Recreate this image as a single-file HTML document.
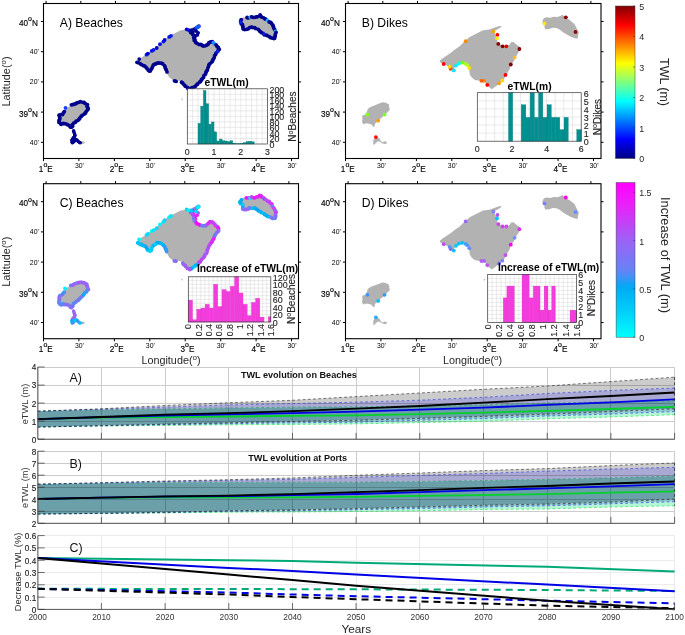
<!DOCTYPE html><html><head><meta charset="utf-8"><title>TWL figure</title><style>html,body{margin:0;padding:0;background:#fff}svg{display:block;will-change:transform}text{font-family:'Liberation Sans', sans-serif}</style></head><body>
<svg width="685" height="635" viewBox="0 0 685 635">
<rect width="685" height="635" fill="#fff"/>
<polygon points="137.3,60.8 140.2,58.4 143.8,56.0 148.6,52.7 152.6,49.5 157.4,46.3 162.2,41.5 167.8,36.7 174.3,33.5 180.7,30.3 187.1,29.5 191.9,27.8 196.0,26.2 199.2,25.9 198.4,27.5 194.3,29.8 191.9,31.1 192.7,34.3 194.3,38.3 195.1,42.3 198.4,44.7 203.2,46.3 207.2,44.7 208.8,42.3 211.2,42.0 214.4,44.7 217.6,47.1 218.4,49.5 216.0,52.7 213.6,56.8 211.2,61.6 208.8,64.8 207.2,69.6 204.8,73.6 203.2,76.8 200.8,80.0 197.6,83.3 194.3,85.7 191.1,88.1 189.5,89.2 187.1,87.3 184.7,84.9 182.3,81.6 179.1,80.8 175.9,80.5 172.7,80.0 169.5,77.6 167.5,74.4 167.0,70.4 166.2,67.2 163.8,64.0 159.8,62.4 156.6,63.2 153.4,65.6 151.8,68.8 151.0,71.2 148.6,69.6 146.2,66.4 143.0,64.8 140.5,64.0 138.1,62.4" fill="#b2b2b2"/>
<polygon points="240.0,21.3 241.5,18.3 244.0,17.3 248.1,17.8 251.2,16.8 255.3,17.1 258.4,15.7 260.4,14.7 261.9,16.8 264.5,18.3 267.0,19.8 269.6,21.9 272.2,23.9 273.7,27.0 275.2,30.0 276.5,32.6 275.7,35.7 275.2,38.7 272.7,38.2 268.6,36.7 264.5,34.6 260.4,32.1 257.3,29.5 254.3,28.0 250.2,27.7 247.1,29.0 243.0,29.3 242.0,27.0 242.5,24.9 240.5,23.4" fill="#b2b2b2"/>
<polygon points="59.9,115.6 62.9,114.6 64.5,112.0 65.5,108.9 68.1,106.9 72.1,105.4 76.2,103.8 80.3,102.3 83.4,102.8 86.5,104.3 87.0,107.4 87.5,110.0 85.4,112.0 83.4,114.1 81.4,116.1 78.8,118.1 76.8,120.2 74.7,121.7 72.7,123.8 72.1,126.8 70.6,126.8 69.6,124.8 67.0,123.8 64.0,123.3 61.4,124.3 59.7,122.2 60.1,119.2" fill="#b2b2b2"/>
<polygon points="71.1,140.1 72.7,138.1 74.7,137.6 77.3,138.6 78.3,140.7 80.3,142.2 82.4,141.2 84.4,141.7 84.6,143.2 82.9,144.0 80.3,143.4 77.8,141.7 75.7,141.2 73.7,142.7 72.1,144.8 70.9,144.2" fill="#b2b2b2"/>
<circle cx="182.1" cy="99.5" r="0.9" fill="#c8c8c8"/>
<circle cx="198.8" cy="26.1" r="1.9" fill="#00008f"/><circle cx="197.6" cy="27.1" r="1.9" fill="#00008f"/><circle cx="195.8" cy="28.3" r="1.9" fill="#00008f"/><circle cx="194.6" cy="29.5" r="1.9" fill="#0a20ff"/><circle cx="193.3" cy="30.0" r="1.9" fill="#00008f"/><circle cx="192.2" cy="31.4" r="1.9" fill="#0a20ff"/><circle cx="192.5" cy="32.3" r="1.9" fill="#00008f"/><circle cx="193.1" cy="34.6" r="1.9" fill="#00008f"/><circle cx="194.0" cy="36.0" r="1.9" fill="#00008f"/><circle cx="194.6" cy="37.0" r="1.9" fill="#00008f"/><circle cx="194.7" cy="39.2" r="1.9" fill="#00008f"/><circle cx="195.1" cy="40.8" r="1.9" fill="#00008f"/><circle cx="195.8" cy="42.5" r="1.9" fill="#00008f"/><circle cx="197.1" cy="43.3" r="1.9" fill="#00008f"/><circle cx="199.0" cy="44.4" r="1.9" fill="#00008f"/><circle cx="200.7" cy="44.5" r="1.9" fill="#00008f"/><circle cx="202.1" cy="45.1" r="1.9" fill="#00008f"/><circle cx="203.1" cy="46.1" r="1.9" fill="#00008f"/><circle cx="205.1" cy="45.8" r="1.9" fill="#00008f"/><circle cx="206.8" cy="45.0" r="1.9" fill="#00008f"/><circle cx="208.0" cy="44.3" r="1.9" fill="#00008f"/><circle cx="208.9" cy="42.7" r="1.9" fill="#00008f"/><circle cx="210.5" cy="42.0" r="1.9" fill="#00008f"/><circle cx="212.3" cy="41.7" r="1.9" fill="#00008f"/><circle cx="213.4" cy="42.6" r="1.9" fill="#1e90ff"/><circle cx="214.2" cy="43.8" r="1.9" fill="#1e90ff"/><circle cx="216.1" cy="44.8" r="1.9" fill="#00008f"/><circle cx="217.1" cy="46.5" r="1.9" fill="#00008f"/><circle cx="218.3" cy="47.4" r="1.9" fill="#00008f"/><circle cx="219.2" cy="49.3" r="1.9" fill="#00008f"/><circle cx="218.2" cy="50.3" r="1.9" fill="#00008f"/><circle cx="217.7" cy="51.5" r="1.9" fill="#0a20e0"/><circle cx="216.1" cy="53.0" r="1.9" fill="#0a20e0"/><circle cx="215.5" cy="54.5" r="1.9" fill="#00008f"/><circle cx="214.5" cy="56.0" r="1.9" fill="#00008f"/><circle cx="214.2" cy="57.8" r="1.9" fill="#00008f"/><circle cx="213.1" cy="59.3" r="1.9" fill="#00008f"/><circle cx="212.6" cy="60.9" r="1.9" fill="#00008f"/><circle cx="211.7" cy="62.1" r="1.9" fill="#00008f"/><circle cx="210.1" cy="63.6" r="1.9" fill="#00008f"/><circle cx="209.0" cy="64.6" r="1.9" fill="#00008f"/><circle cx="208.7" cy="66.1" r="1.9" fill="#00008f"/><circle cx="208.0" cy="67.7" r="1.9" fill="#00008f"/><circle cx="207.4" cy="70.1" r="1.9" fill="#00008f"/><circle cx="206.6" cy="71.0" r="1.9" fill="#00008f"/><circle cx="205.9" cy="72.3" r="1.9" fill="#00008f"/><circle cx="205.6" cy="74.1" r="1.9" fill="#00008f"/><circle cx="204.1" cy="75.3" r="1.9" fill="#00008f"/><circle cx="203.5" cy="77.4" r="1.9" fill="#00008f"/><circle cx="202.2" cy="78.9" r="1.9" fill="#00008f"/><circle cx="201.3" cy="79.9" r="1.9" fill="#00008f"/><circle cx="200.5" cy="81.6" r="1.9" fill="#00008f"/><circle cx="199.5" cy="82.1" r="1.9" fill="#00008f"/><circle cx="197.8" cy="83.8" r="1.9" fill="#00008f"/><circle cx="197.0" cy="84.4" r="1.9" fill="#00008f"/><circle cx="195.7" cy="86.0" r="1.9" fill="#00008f"/><circle cx="194.3" cy="86.9" r="1.9" fill="#00008f"/><circle cx="192.4" cy="87.7" r="1.9" fill="#00008f"/><circle cx="190.9" cy="88.2" r="1.9" fill="#00008f"/><circle cx="189.7" cy="89.8" r="1.9" fill="#00008f"/><circle cx="188.5" cy="89.3" r="1.9" fill="#00008f"/><circle cx="187.6" cy="87.7" r="1.9" fill="#00008f"/><circle cx="185.8" cy="86.4" r="1.9" fill="#00008f"/><circle cx="184.9" cy="85.8" r="1.9" fill="#00008f"/><circle cx="183.7" cy="84.2" r="1.9" fill="#00008f"/><circle cx="182.4" cy="82.9" r="1.9" fill="#00008f"/><circle cx="181.6" cy="82.2" r="1.9" fill="#00008f"/><circle cx="176.1" cy="81.4" r="1.9" fill="#00008f"/><circle cx="174.5" cy="80.8" r="1.9" fill="#00008f"/><circle cx="167.0" cy="71.9" r="1.9" fill="#00008f"/><circle cx="166.2" cy="69.8" r="1.9" fill="#00008f"/><circle cx="165.5" cy="68.6" r="1.9" fill="#00008f"/><circle cx="165.1" cy="67.1" r="1.9" fill="#00008f"/><circle cx="164.4" cy="65.6" r="1.9" fill="#00008f"/><circle cx="162.8" cy="63.9" r="1.9" fill="#00008f"/><circle cx="161.5" cy="63.2" r="1.9" fill="#00008f"/><circle cx="159.5" cy="63.1" r="1.9" fill="#00008f"/><circle cx="158.2" cy="62.8" r="1.9" fill="#00008f"/><circle cx="156.5" cy="63.5" r="1.9" fill="#00008f"/><circle cx="155.2" cy="64.0" r="1.9" fill="#00008f"/><circle cx="153.7" cy="64.7" r="1.9" fill="#00008f"/><circle cx="152.9" cy="65.9" r="1.9" fill="#00008f"/><circle cx="152.1" cy="67.8" r="1.9" fill="#00008f"/><circle cx="151.2" cy="69.3" r="1.9" fill="#00008f"/><circle cx="150.3" cy="70.9" r="1.9" fill="#00008f"/><circle cx="149.3" cy="71.1" r="1.9" fill="#00008f"/><circle cx="148.2" cy="70.1" r="1.9" fill="#00008f"/><circle cx="147.0" cy="68.6" r="1.9" fill="#00008f"/><circle cx="146.1" cy="67.4" r="1.9" fill="#00008f"/><circle cx="144.8" cy="66.1" r="1.9" fill="#00008f"/><circle cx="143.5" cy="65.7" r="1.9" fill="#00008f"/><circle cx="141.5" cy="64.7" r="1.9" fill="#00008f"/><circle cx="140.4" cy="63.8" r="1.9" fill="#00008f"/><circle cx="138.6" cy="62.8" r="1.9" fill="#00008f"/><circle cx="137.0" cy="62.3" r="1.9" fill="#00008f"/>
<circle cx="240.6" cy="21.1" r="1.9" fill="#0a20f0"/><circle cx="241.2" cy="19.6" r="1.9" fill="#00008f"/><circle cx="247.1" cy="17.5" r="1.9" fill="#00008f"/><circle cx="248.3" cy="17.9" r="1.9" fill="#00008f"/><circle cx="250.3" cy="17.1" r="1.9" fill="#00e0ff"/><circle cx="251.6" cy="16.9" r="1.9" fill="#00008f"/><circle cx="253.2" cy="17.4" r="1.9" fill="#00008f"/><circle cx="255.1" cy="17.3" r="1.9" fill="#00008f"/><circle cx="256.4" cy="16.9" r="1.9" fill="#00008f"/><circle cx="257.8" cy="16.6" r="1.9" fill="#00008f"/><circle cx="260.1" cy="15.0" r="1.9" fill="#00008f"/><circle cx="260.5" cy="16.0" r="1.9" fill="#00008f"/><circle cx="261.6" cy="17.0" r="1.9" fill="#00008f"/><circle cx="263.7" cy="17.8" r="1.9" fill="#00008f"/><circle cx="265.2" cy="18.9" r="1.9" fill="#00008f"/><circle cx="265.9" cy="19.3" r="1.9" fill="#00008f"/><circle cx="267.6" cy="20.3" r="1.9" fill="#20b0ff"/><circle cx="269.2" cy="22.0" r="1.9" fill="#00008f"/><circle cx="270.7" cy="22.4" r="1.9" fill="#00008f"/><circle cx="271.7" cy="23.7" r="1.9" fill="#00008f"/><circle cx="272.9" cy="25.1" r="1.9" fill="#00008f"/><circle cx="273.3" cy="26.6" r="1.9" fill="#00008f"/><circle cx="273.8" cy="27.9" r="1.9" fill="#00008f"/><circle cx="274.7" cy="29.7" r="1.9" fill="#00008f"/><circle cx="275.5" cy="31.3" r="1.9" fill="#20b0ff"/><circle cx="276.0" cy="32.4" r="1.9" fill="#00008f"/><circle cx="275.3" cy="34.7" r="1.9" fill="#00008f"/><circle cx="275.1" cy="36.2" r="1.9" fill="#00008f"/><circle cx="274.7" cy="38.1" r="1.9" fill="#00008f"/><circle cx="274.0" cy="38.6" r="1.9" fill="#00008f"/><circle cx="272.3" cy="38.1" r="1.9" fill="#00008f"/><circle cx="270.6" cy="37.7" r="1.9" fill="#00008f"/><circle cx="269.3" cy="36.7" r="1.9" fill="#00008f"/><circle cx="267.2" cy="35.7" r="1.9" fill="#00008f"/><circle cx="266.3" cy="35.1" r="1.9" fill="#00008f"/><circle cx="264.2" cy="34.8" r="1.9" fill="#00008f"/><circle cx="263.3" cy="33.4" r="1.9" fill="#0a20f0"/><circle cx="261.5" cy="32.7" r="1.9" fill="#00008f"/><circle cx="260.2" cy="31.6" r="1.9" fill="#00008f"/><circle cx="259.4" cy="30.7" r="1.9" fill="#00008f"/><circle cx="258.2" cy="29.3" r="1.9" fill="#00008f"/><circle cx="255.8" cy="28.6" r="1.9" fill="#00008f"/><circle cx="254.7" cy="27.7" r="1.9" fill="#00008f"/><circle cx="252.6" cy="27.5" r="1.9" fill="#00008f"/><circle cx="251.3" cy="27.2" r="1.9" fill="#00008f"/><circle cx="249.6" cy="27.7" r="1.9" fill="#00008f"/><circle cx="248.2" cy="28.8" r="1.9" fill="#00008f"/><circle cx="246.7" cy="29.3" r="1.9" fill="#00008f"/><circle cx="244.7" cy="29.6" r="1.9" fill="#00008f"/><circle cx="243.5" cy="29.2" r="1.9" fill="#00008f"/><circle cx="242.9" cy="27.9" r="1.9" fill="#00008f"/><circle cx="242.8" cy="26.2" r="1.9" fill="#00008f"/><circle cx="242.3" cy="24.5" r="1.9" fill="#00008f"/><circle cx="241.2" cy="23.8" r="1.9" fill="#00008f"/><circle cx="240.7" cy="22.1" r="1.9" fill="#0a20f0"/>
<circle cx="59.0" cy="115.2" r="1.9" fill="#00008f"/><circle cx="60.7" cy="114.7" r="1.9" fill="#00008f"/><circle cx="62.5" cy="114.5" r="1.9" fill="#00008f"/><circle cx="63.4" cy="112.9" r="1.9" fill="#00008f"/><circle cx="64.3" cy="111.6" r="1.9" fill="#00008f"/><circle cx="65.5" cy="107.9" r="1.9" fill="#1040ff"/><circle cx="71.4" cy="104.8" r="1.9" fill="#00008f"/><circle cx="73.2" cy="104.5" r="1.9" fill="#00008f"/><circle cx="74.4" cy="104.1" r="1.9" fill="#00008f"/><circle cx="76.1" cy="103.5" r="1.9" fill="#00008f"/><circle cx="77.3" cy="102.6" r="1.9" fill="#00008f"/><circle cx="79.0" cy="102.3" r="1.9" fill="#00008f"/><circle cx="80.4" cy="101.6" r="1.9" fill="#00008f"/><circle cx="82.7" cy="102.3" r="1.9" fill="#00008f"/><circle cx="84.1" cy="102.5" r="1.9" fill="#00008f"/><circle cx="85.3" cy="103.6" r="1.9" fill="#00008f"/><circle cx="87.4" cy="104.6" r="1.9" fill="#00008f"/><circle cx="87.2" cy="106.2" r="1.9" fill="#00008f"/><circle cx="87.6" cy="107.3" r="1.9" fill="#00008f"/><circle cx="88.3" cy="108.9" r="1.9" fill="#00008f"/><circle cx="87.0" cy="110.6" r="1.9" fill="#00008f"/><circle cx="85.8" cy="112.1" r="1.9" fill="#00008f"/><circle cx="85.3" cy="113.2" r="1.9" fill="#00008f"/><circle cx="84.1" cy="114.2" r="1.9" fill="#00008f"/><circle cx="82.1" cy="115.5" r="1.9" fill="#00008f"/><circle cx="81.2" cy="116.3" r="1.9" fill="#00008f"/><circle cx="79.9" cy="118.1" r="1.9" fill="#00008f"/><circle cx="79.1" cy="119.2" r="1.9" fill="#00008f"/><circle cx="78.0" cy="120.3" r="1.9" fill="#00008f"/><circle cx="76.1" cy="121.1" r="1.9" fill="#00008f"/><circle cx="75.4" cy="122.3" r="1.9" fill="#00008f"/><circle cx="73.6" cy="123.2" r="1.9" fill="#00008f"/><circle cx="72.2" cy="124.9" r="1.9" fill="#00008f"/><circle cx="72.7" cy="126.1" r="1.9" fill="#00008f"/><circle cx="71.6" cy="127.2" r="1.9" fill="#00008f"/><circle cx="70.6" cy="127.2" r="1.9" fill="#00008f"/><circle cx="69.5" cy="125.8" r="1.9" fill="#00008f"/><circle cx="67.9" cy="124.9" r="1.9" fill="#00008f"/><circle cx="66.5" cy="124.1" r="1.9" fill="#00008f"/><circle cx="64.7" cy="123.7" r="1.9" fill="#00008f"/><circle cx="63.3" cy="123.5" r="1.9" fill="#00008f"/><circle cx="61.2" cy="124.3" r="1.9" fill="#00008f"/><circle cx="60.6" cy="123.5" r="1.9" fill="#00008f"/><circle cx="59.0" cy="122.4" r="1.9" fill="#00008f"/><circle cx="59.0" cy="120.4" r="1.9" fill="#00008f"/><circle cx="59.8" cy="119.0" r="1.9" fill="#00008f"/><circle cx="59.7" cy="117.7" r="1.9" fill="#00008f"/>
<circle cx="139.2" cy="59.1" r="1.9" fill="#00008f"/><circle cx="146.5" cy="54.7" r="1.9" fill="#0818f0"/><circle cx="147.9" cy="53.6" r="1.9" fill="#0000d0"/><circle cx="151.7" cy="50.9" r="1.9" fill="#0a10e0"/><circle cx="153.5" cy="49.9" r="1.9" fill="#0818f0"/><circle cx="156.7" cy="48.0" r="1.9" fill="#0000d0"/><circle cx="160.0" cy="44.2" r="1.9" fill="#0a10e0"/><circle cx="163.4" cy="41.6" r="1.9" fill="#0818f0"/><circle cx="164.6" cy="39.9" r="1.9" fill="#0000d0"/><circle cx="169.2" cy="36.9" r="1.9" fill="#0a10e0"/><circle cx="171.0" cy="35.8" r="1.9" fill="#0818f0"/><circle cx="186.7" cy="29.3" r="1.9" fill="#0000d0"/><circle cx="188.8" cy="30.2" r="1.9" fill="#0a10e0"/><circle cx="191.1" cy="30.8" r="1.9" fill="#0818f0"/><circle cx="197.0" cy="27.3" r="1.9" fill="#1060ff"/><circle cx="198.7" cy="26.7" r="1.9" fill="#1060ff"/><circle cx="190.7" cy="32.4" r="1.9" fill="#00008f"/><circle cx="192.6" cy="34.3" r="1.9" fill="#00008f"/><circle cx="195.1" cy="36.1" r="1.9" fill="#00008f"/><circle cx="197.3" cy="34.9" r="1.9" fill="#00008f"/><circle cx="198.1" cy="32.8" r="1.9" fill="#00008f"/><circle cx="196.1" cy="31.1" r="1.9" fill="#00008f"/><circle cx="193.7" cy="37.8" r="1.9" fill="#00008f"/><circle cx="194.3" cy="40.4" r="1.9" fill="#00008f"/><circle cx="191.4" cy="30.5" r="1.9" fill="#00008f"/><circle cx="73.6" cy="130.9" r="1.8" fill="#00008f"/><circle cx="74.1" cy="132.5" r="1.8" fill="#00008f"/><circle cx="74.6" cy="134.0" r="1.8" fill="#00008f"/><circle cx="75.0" cy="135.5" r="1.8" fill="#00008f"/><circle cx="74.4" cy="136.8" r="1.8" fill="#00008f"/><circle cx="73.3" cy="137.9" r="1.8" fill="#00008f"/><circle cx="72.4" cy="139.2" r="1.8" fill="#00008f"/><circle cx="71.9" cy="140.6" r="1.8" fill="#00008f"/><circle cx="72.1" cy="142.2" r="1.8" fill="#00008f"/><circle cx="72.6" cy="142.8" r="1.8" fill="#00008f"/><circle cx="73.8" cy="141.7" r="1.8" fill="#00008f"/><circle cx="74.9" cy="140.6" r="1.8" fill="#00008f"/><circle cx="76.1" cy="139.5" r="1.8" fill="#00008f"/><circle cx="77.2" cy="140.3" r="1.8" fill="#00008f"/><circle cx="78.3" cy="141.5" r="1.8" fill="#00008f"/><circle cx="79.5" cy="142.5" r="1.8" fill="#00008f"/><circle cx="80.2" cy="142.8" r="1.8" fill="#00008f"/>
<rect x="43.5" y="3.5" width="255.0" height="155.0" fill="none" stroke="#000" stroke-width="1.1"/>
<path d="M43.5 21.5h-2.6M298.5 21.5h2.6M43.5 51.7h-2.6M298.5 51.7h2.6M43.5 81.9h-2.6M298.5 81.9h2.6M43.5 112.1h-2.6M298.5 112.1h2.6M43.5 142.3h-2.6M298.5 142.3h2.6M43.5 158.5v2.6M78.9 158.5v2.6M114.4 158.5v2.6M149.8 158.5v2.6M185.2 158.5v2.6M220.7 158.5v2.6M256.1 158.5v2.6M291.5 158.5v2.6M46.1 3.5v-2.6M80.8 3.5v-2.6M115.5 3.5v-2.6M150.1 3.5v-2.6M184.8 3.5v-2.6M219.5 3.5v-2.6M254.2 3.5v-2.6M288.9 3.5v-2.6" stroke="#000" stroke-width="1" fill="none"/>
<text x="37.9" y="25.9" font-size="8.2" text-anchor="end" font-weight="normal" fill="#000" stroke="#000" stroke-width="0.14">40<tspan font-size="7" dy="-4.5" stroke-width="0.2">o</tspan><tspan dy="4.5">N</tspan></text>
<text x="38.8" y="54.1" font-size="6.9" text-anchor="end" font-weight="normal" fill="#000">40'</text>
<text x="38.8" y="84.3" font-size="6.9" text-anchor="end" font-weight="normal" fill="#000">20'</text>
<text x="37.9" y="116.5" font-size="8.2" text-anchor="end" font-weight="normal" fill="#000" stroke="#000" stroke-width="0.14">39<tspan font-size="7" dy="-4.5" stroke-width="0.2">o</tspan><tspan dy="4.5">N</tspan></text>
<text x="38.8" y="144.7" font-size="6.9" text-anchor="end" font-weight="normal" fill="#000">40'</text>
<text x="45.8" y="171.5" font-size="8.2" text-anchor="middle" font-weight="normal" fill="#000" stroke="#000" stroke-width="0.14">1<tspan font-size="7" dy="-4.5" stroke-width="0.2">o</tspan><tspan dy="4.5">E</tspan></text>
<text x="79.4" y="167.9" font-size="6.9" text-anchor="middle" font-weight="normal" fill="#000">30'</text>
<text x="116.7" y="171.5" font-size="8.2" text-anchor="middle" font-weight="normal" fill="#000" stroke="#000" stroke-width="0.14">2<tspan font-size="7" dy="-4.5" stroke-width="0.2">o</tspan><tspan dy="4.5">E</tspan></text>
<text x="150.3" y="167.9" font-size="6.9" text-anchor="middle" font-weight="normal" fill="#000">30'</text>
<text x="187.5" y="171.5" font-size="8.2" text-anchor="middle" font-weight="normal" fill="#000" stroke="#000" stroke-width="0.14">3<tspan font-size="7" dy="-4.5" stroke-width="0.2">o</tspan><tspan dy="4.5">E</tspan></text>
<text x="221.2" y="167.9" font-size="6.9" text-anchor="middle" font-weight="normal" fill="#000">30'</text>
<text x="258.4" y="171.5" font-size="8.2" text-anchor="middle" font-weight="normal" fill="#000" stroke="#000" stroke-width="0.14">4<tspan font-size="7" dy="-4.5" stroke-width="0.2">o</tspan><tspan dy="4.5">E</tspan></text>
<text x="292.0" y="167.9" font-size="6.9" text-anchor="middle" font-weight="normal" fill="#000">30'</text>
<text x="59.8" y="26.6" font-size="12.2" text-anchor="start" font-weight="normal" fill="#000">A) Beaches</text>
<polygon points="439.6,60.8 442.5,58.4 446.1,56.0 450.9,52.7 454.9,49.5 459.7,46.3 464.5,41.5 470.1,36.7 476.6,33.5 483.0,30.3 489.4,29.5 494.2,27.8 498.3,26.2 501.5,25.9 500.7,27.5 496.6,29.8 494.2,31.1 495.0,34.3 496.6,38.3 497.4,42.3 500.7,44.7 505.5,46.3 509.5,44.7 511.1,42.3 513.5,42.0 516.7,44.7 519.9,47.1 520.7,49.5 518.3,52.7 515.9,56.8 513.5,61.6 511.1,64.8 509.5,69.6 507.1,73.6 505.5,76.8 503.1,80.0 499.9,83.3 496.6,85.7 493.4,88.1 491.8,89.2 489.4,87.3 487.0,84.9 484.6,81.6 481.4,80.8 478.2,80.5 475.0,80.0 471.8,77.6 469.8,74.4 469.3,70.4 468.5,67.2 466.1,64.0 462.1,62.4 458.9,63.2 455.7,65.6 454.1,68.8 453.3,71.2 450.9,69.6 448.5,66.4 445.3,64.8 442.8,64.0 440.4,62.4" fill="#b2b2b2"/>
<polygon points="542.3,21.3 543.8,18.3 546.3,17.3 550.4,17.8 553.5,16.8 557.6,17.1 560.7,15.7 562.7,14.7 564.2,16.8 566.8,18.3 569.3,19.8 571.9,21.9 574.5,23.9 576.0,27.0 577.5,30.0 578.8,32.6 578.0,35.7 577.5,38.7 575.0,38.2 570.9,36.7 566.8,34.6 562.7,32.1 559.6,29.5 556.6,28.0 552.5,27.7 549.4,29.0 545.3,29.3 544.3,27.0 544.8,24.9 542.8,23.4" fill="#b2b2b2"/>
<polygon points="362.2,115.6 365.2,114.6 366.8,112.0 367.8,108.9 370.4,106.9 374.4,105.4 378.5,103.8 382.6,102.3 385.7,102.8 388.8,104.3 389.3,107.4 389.8,110.0 387.7,112.0 385.7,114.1 383.7,116.1 381.1,118.1 379.1,120.2 377.0,121.7 375.0,123.8 374.4,126.8 372.9,126.8 371.9,124.8 369.3,123.8 366.3,123.3 363.7,124.3 362.0,122.2 362.4,119.2" fill="#b2b2b2"/>
<polygon points="373.4,140.1 375.0,138.1 377.0,137.6 379.6,138.6 380.6,140.7 382.6,142.2 384.7,141.2 386.7,141.7 386.9,143.2 385.2,144.0 382.6,143.4 380.1,141.7 378.0,141.2 376.0,142.7 374.4,144.8 373.2,144.2" fill="#b2b2b2"/>
<circle cx="484.4" cy="99.5" r="0.9" fill="#c8c8c8"/>
<circle cx="465.7" cy="41.2" r="1.9" fill="#ff8c00"/><circle cx="493.4" cy="31.5" r="1.9" fill="#ffa500"/><circle cx="497.4" cy="34.8" r="1.9" fill="#ff0000"/><circle cx="497.0" cy="38.3" r="1.9" fill="#fff000"/><circle cx="498.3" cy="43.9" r="1.9" fill="#8b0000"/><circle cx="502.6" cy="46.3" r="1.9" fill="#800000"/><circle cx="506.3" cy="46.3" r="1.9" fill="#e00000"/><circle cx="519.4" cy="49.0" r="1.9" fill="#8b0000"/><circle cx="514.6" cy="57.6" r="1.9" fill="#ffc020"/><circle cx="510.8" cy="64.5" r="1.9" fill="#800000"/><circle cx="505.5" cy="74.9" r="1.9" fill="#ff0000"/><circle cx="502.3" cy="80.5" r="1.9" fill="#ffd700"/><circle cx="499.1" cy="83.3" r="1.9" fill="#ffa000"/><circle cx="487.3" cy="84.9" r="1.9" fill="#ff0000"/><circle cx="484.1" cy="80.8" r="1.9" fill="#ff8000"/><circle cx="481.4" cy="80.8" r="1.9" fill="#ff6000"/><circle cx="469.3" cy="68.0" r="1.9" fill="#ffe000"/><circle cx="467.3" cy="65.1" r="1.9" fill="#c0ff00"/><circle cx="465.7" cy="63.7" r="1.9" fill="#a0ff20"/><circle cx="462.1" cy="62.7" r="1.9" fill="#70ff00"/><circle cx="458.9" cy="63.5" r="1.9" fill="#00ffff"/><circle cx="456.0" cy="65.6" r="1.9" fill="#00f0ff"/><circle cx="453.8" cy="70.4" r="1.9" fill="#00e8ff"/><circle cx="450.6" cy="68.8" r="1.9" fill="#ff4500"/><circle cx="449.6" cy="66.7" r="1.9" fill="#ffd700"/><circle cx="443.7" cy="64.0" r="1.9" fill="#ff0000"/><circle cx="544.5" cy="23.4" r="1.9" fill="#ffe800"/><circle cx="565.8" cy="17.3" r="1.9" fill="#8b0000"/><circle cx="575.5" cy="31.9" r="1.9" fill="#8b0000"/><circle cx="367.5" cy="114.6" r="1.9" fill="#80ff20"/><circle cx="384.5" cy="114.6" r="1.9" fill="#80ff20"/><circle cx="378.2" cy="120.7" r="1.9" fill="#ffa000"/><circle cx="375.9" cy="137.1" r="1.9" fill="#ff1000"/>
<rect x="345.5" y="3.5" width="255.5" height="155.0" fill="none" stroke="#000" stroke-width="1.1"/>
<path d="M345.5 21.5h-2.6M601.0 21.5h2.6M345.5 51.7h-2.6M601.0 51.7h2.6M345.5 81.9h-2.6M601.0 81.9h2.6M345.5 112.1h-2.6M601.0 112.1h2.6M345.5 142.3h-2.6M601.0 142.3h2.6M345.5 158.5v2.6M380.9 158.5v2.6M416.4 158.5v2.6M451.8 158.5v2.6M487.2 158.5v2.6M522.6 158.5v2.6M558.1 158.5v2.6M593.5 158.5v2.6M348.1 3.5v-2.6M382.8 3.5v-2.6M417.5 3.5v-2.6M452.1 3.5v-2.6M486.8 3.5v-2.6M521.5 3.5v-2.6M556.2 3.5v-2.6M590.9 3.5v-2.6" stroke="#000" stroke-width="1" fill="none"/>
<text x="339.9" y="25.9" font-size="8.2" text-anchor="end" font-weight="normal" fill="#000" stroke="#000" stroke-width="0.14">40<tspan font-size="7" dy="-4.5" stroke-width="0.2">o</tspan><tspan dy="4.5">N</tspan></text>
<text x="340.8" y="54.1" font-size="6.9" text-anchor="end" font-weight="normal" fill="#000">40'</text>
<text x="340.8" y="84.3" font-size="6.9" text-anchor="end" font-weight="normal" fill="#000">20'</text>
<text x="339.9" y="116.5" font-size="8.2" text-anchor="end" font-weight="normal" fill="#000" stroke="#000" stroke-width="0.14">39<tspan font-size="7" dy="-4.5" stroke-width="0.2">o</tspan><tspan dy="4.5">N</tspan></text>
<text x="340.8" y="144.7" font-size="6.9" text-anchor="end" font-weight="normal" fill="#000">40'</text>
<text x="347.8" y="171.5" font-size="8.2" text-anchor="middle" font-weight="normal" fill="#000" stroke="#000" stroke-width="0.14">1<tspan font-size="7" dy="-4.5" stroke-width="0.2">o</tspan><tspan dy="4.5">E</tspan></text>
<text x="381.4" y="167.9" font-size="6.9" text-anchor="middle" font-weight="normal" fill="#000">30'</text>
<text x="418.7" y="171.5" font-size="8.2" text-anchor="middle" font-weight="normal" fill="#000" stroke="#000" stroke-width="0.14">2<tspan font-size="7" dy="-4.5" stroke-width="0.2">o</tspan><tspan dy="4.5">E</tspan></text>
<text x="452.3" y="167.9" font-size="6.9" text-anchor="middle" font-weight="normal" fill="#000">30'</text>
<text x="489.5" y="171.5" font-size="8.2" text-anchor="middle" font-weight="normal" fill="#000" stroke="#000" stroke-width="0.14">3<tspan font-size="7" dy="-4.5" stroke-width="0.2">o</tspan><tspan dy="4.5">E</tspan></text>
<text x="523.1" y="167.9" font-size="6.9" text-anchor="middle" font-weight="normal" fill="#000">30'</text>
<text x="560.4" y="171.5" font-size="8.2" text-anchor="middle" font-weight="normal" fill="#000" stroke="#000" stroke-width="0.14">4<tspan font-size="7" dy="-4.5" stroke-width="0.2">o</tspan><tspan dy="4.5">E</tspan></text>
<text x="594.0" y="167.9" font-size="6.9" text-anchor="middle" font-weight="normal" fill="#000">30'</text>
<text x="361.8" y="26.6" font-size="12.2" text-anchor="start" font-weight="normal" fill="#000">B) Dikes</text>
<polygon points="137.3,241.0 140.2,238.6 143.8,236.2 148.6,232.9 152.6,229.7 157.4,226.5 162.2,221.7 167.8,216.9 174.3,213.7 180.7,210.5 187.1,209.7 191.9,208.0 196.0,206.4 199.2,206.1 198.4,207.7 194.3,210.0 191.9,211.3 192.7,214.5 194.3,218.5 195.1,222.5 198.4,224.9 203.2,226.5 207.2,224.9 208.8,222.5 211.2,222.2 214.4,224.9 217.6,227.3 218.4,229.7 216.0,232.9 213.6,237.0 211.2,241.8 208.8,245.0 207.2,249.8 204.8,253.8 203.2,257.0 200.8,260.2 197.6,263.5 194.3,265.9 191.1,268.3 189.5,269.4 187.1,267.5 184.7,265.1 182.3,261.8 179.1,261.0 175.9,260.7 172.7,260.2 169.5,257.8 167.5,254.6 167.0,250.6 166.2,247.4 163.8,244.2 159.8,242.6 156.6,243.4 153.4,245.8 151.8,249.0 151.0,251.4 148.6,249.8 146.2,246.6 143.0,245.0 140.5,244.2 138.1,242.6" fill="#b2b2b2"/>
<polygon points="240.0,201.5 241.5,198.5 244.0,197.5 248.1,198.0 251.2,197.0 255.3,197.3 258.4,195.9 260.4,194.9 261.9,197.0 264.5,198.5 267.0,200.0 269.6,202.1 272.2,204.1 273.7,207.2 275.2,210.2 276.5,212.8 275.7,215.9 275.2,218.9 272.7,218.4 268.6,216.9 264.5,214.8 260.4,212.3 257.3,209.7 254.3,208.2 250.2,207.9 247.1,209.2 243.0,209.5 242.0,207.2 242.5,205.1 240.5,203.6" fill="#b2b2b2"/>
<polygon points="59.9,295.8 62.9,294.8 64.5,292.2 65.5,289.1 68.1,287.1 72.1,285.6 76.2,284.0 80.3,282.5 83.4,283.0 86.5,284.5 87.0,287.6 87.5,290.2 85.4,292.2 83.4,294.3 81.4,296.3 78.8,298.3 76.8,300.4 74.7,301.9 72.7,304.0 72.1,307.0 70.6,307.0 69.6,305.0 67.0,304.0 64.0,303.5 61.4,304.5 59.7,302.4 60.1,299.4" fill="#b2b2b2"/>
<polygon points="71.1,320.3 72.7,318.3 74.7,317.8 77.3,318.8 78.3,320.9 80.3,322.4 82.4,321.4 84.4,321.9 84.6,323.4 82.9,324.2 80.3,323.6 77.8,321.9 75.7,321.4 73.7,322.9 72.1,325.0 70.9,324.4" fill="#b2b2b2"/>
<circle cx="182.1" cy="279.7" r="0.9" fill="#c8c8c8"/>
<circle cx="198.6" cy="206.3" r="1.9" fill="#7679f5"/><circle cx="197.5" cy="207.5" r="1.9" fill="#727cf5"/><circle cx="196.4" cy="208.5" r="1.9" fill="#c93df6"/><circle cx="194.6" cy="209.2" r="1.9" fill="#9d61f5"/><circle cx="193.6" cy="209.8" r="1.9" fill="#8471f5"/><circle cx="192.6" cy="211.0" r="1.9" fill="#e624f7"/><circle cx="192.6" cy="212.8" r="1.9" fill="#b84bf6"/><circle cx="193.6" cy="214.1" r="1.9" fill="#f311fb"/><circle cx="194.2" cy="216.0" r="1.9" fill="#eb1df9"/><circle cx="194.4" cy="218.0" r="1.9" fill="#9b63f5"/><circle cx="195.4" cy="219.0" r="1.9" fill="#f311fb"/><circle cx="195.3" cy="221.1" r="1.9" fill="#ad54f5"/><circle cx="196.1" cy="222.6" r="1.9" fill="#f70cfc"/><circle cx="196.9" cy="223.7" r="1.9" fill="#f70cfc"/><circle cx="198.8" cy="224.3" r="1.9" fill="#f70cfc"/><circle cx="200.4" cy="225.2" r="1.9" fill="#f70cfc"/><circle cx="201.9" cy="225.7" r="1.9" fill="#727cf5"/><circle cx="203.6" cy="225.7" r="1.9" fill="#7977f5"/><circle cx="205.5" cy="225.8" r="1.9" fill="#8570f5"/><circle cx="206.4" cy="224.8" r="1.9" fill="#8670f5"/><circle cx="207.9" cy="223.8" r="1.9" fill="#d533f7"/><circle cx="208.9" cy="222.6" r="1.9" fill="#d136f7"/><circle cx="210.1" cy="221.7" r="1.9" fill="#eb1ef9"/><circle cx="212.1" cy="221.8" r="1.9" fill="#b250f5"/><circle cx="213.3" cy="222.9" r="1.9" fill="#d930f7"/><circle cx="214.8" cy="224.1" r="1.9" fill="#a55bf5"/><circle cx="215.7" cy="225.8" r="1.9" fill="#db2ef7"/><circle cx="217.0" cy="226.3" r="1.9" fill="#9766f5"/><circle cx="218.0" cy="227.5" r="1.9" fill="#ec1cf9"/><circle cx="218.6" cy="228.8" r="1.9" fill="#ee1af9"/><circle cx="218.6" cy="231.0" r="1.9" fill="#747bf5"/><circle cx="217.6" cy="231.8" r="1.9" fill="#9269f5"/><circle cx="216.5" cy="233.0" r="1.9" fill="#8f6af5"/><circle cx="215.3" cy="234.7" r="1.9" fill="#737bf5"/><circle cx="214.4" cy="236.2" r="1.9" fill="#528bf5"/><circle cx="214.2" cy="237.6" r="1.9" fill="#a957f5"/><circle cx="213.3" cy="239.3" r="1.9" fill="#f214fb"/><circle cx="212.2" cy="241.3" r="1.9" fill="#d434f7"/><circle cx="211.8" cy="241.9" r="1.9" fill="#c63ff6"/><circle cx="210.7" cy="243.3" r="1.9" fill="#f115fa"/><circle cx="209.8" cy="244.9" r="1.9" fill="#a25df5"/><circle cx="208.7" cy="246.5" r="1.9" fill="#c73ff6"/><circle cx="208.1" cy="248.5" r="1.9" fill="#b64df6"/><circle cx="207.3" cy="250.1" r="1.9" fill="#a15ef5"/><circle cx="207.3" cy="251.0" r="1.9" fill="#b74cf6"/><circle cx="206.5" cy="253.3" r="1.9" fill="#ad54f5"/><circle cx="205.1" cy="254.3" r="1.9" fill="#a05ff5"/><circle cx="204.7" cy="256.0" r="1.9" fill="#9b63f5"/><circle cx="203.8" cy="257.2" r="1.9" fill="#bf45f6"/><circle cx="202.9" cy="258.3" r="1.9" fill="#a65af5"/><circle cx="201.4" cy="259.7" r="1.9" fill="#be46f6"/><circle cx="200.4" cy="261.8" r="1.9" fill="#b250f5"/><circle cx="199.1" cy="262.2" r="1.9" fill="#cc3af6"/><circle cx="198.3" cy="263.7" r="1.9" fill="#ae53f5"/><circle cx="196.9" cy="264.9" r="1.9" fill="#00bff6"/><circle cx="195.6" cy="265.5" r="1.9" fill="#00acf5"/><circle cx="194.1" cy="266.7" r="1.9" fill="#00c4f7"/><circle cx="192.4" cy="267.6" r="1.9" fill="#00c9f7"/><circle cx="191.4" cy="268.7" r="1.9" fill="#00aaf5"/><circle cx="189.9" cy="269.6" r="1.9" fill="#b84bf6"/><circle cx="189.0" cy="268.7" r="1.9" fill="#a45cf5"/><circle cx="187.5" cy="268.4" r="1.9" fill="#ae54f5"/><circle cx="185.7" cy="266.6" r="1.9" fill="#906af5"/><circle cx="185.2" cy="265.5" r="1.9" fill="#a05ff5"/><circle cx="183.6" cy="264.6" r="1.9" fill="#9865f5"/><circle cx="182.8" cy="263.1" r="1.9" fill="#876ff5"/><circle cx="175.9" cy="261.2" r="1.9" fill="#8c6cf5"/><circle cx="174.4" cy="260.9" r="1.9" fill="#8b6df5"/><circle cx="166.6" cy="251.6" r="1.9" fill="#269cf5"/><circle cx="166.2" cy="249.7" r="1.9" fill="#6882f5"/><circle cx="165.5" cy="248.7" r="1.9" fill="#00b0f5"/><circle cx="165.0" cy="247.2" r="1.9" fill="#508cf5"/><circle cx="163.7" cy="245.5" r="1.9" fill="#00b2f5"/><circle cx="162.6" cy="244.4" r="1.9" fill="#00b0f5"/><circle cx="161.1" cy="243.4" r="1.9" fill="#00c2f7"/><circle cx="159.5" cy="242.9" r="1.9" fill="#00b0f5"/><circle cx="158.0" cy="242.6" r="1.9" fill="#00aef5"/><circle cx="156.6" cy="243.0" r="1.9" fill="#00aef5"/><circle cx="155.5" cy="244.3" r="1.9" fill="#00c8f7"/><circle cx="154.0" cy="245.0" r="1.9" fill="#00d2f8"/><circle cx="152.9" cy="246.1" r="1.9" fill="#00b3f5"/><circle cx="151.9" cy="247.8" r="1.9" fill="#00c7f7"/><circle cx="151.3" cy="249.8" r="1.9" fill="#00cef8"/><circle cx="150.9" cy="250.7" r="1.9" fill="#00c0f6"/><circle cx="149.6" cy="251.1" r="1.9" fill="#00d5f9"/><circle cx="148.0" cy="250.2" r="1.9" fill="#00cbf7"/><circle cx="147.0" cy="248.7" r="1.9" fill="#00a8f5"/><circle cx="146.1" cy="247.1" r="1.9" fill="#00aaf5"/><circle cx="144.8" cy="246.0" r="1.9" fill="#18a0f5"/><circle cx="142.9" cy="245.5" r="1.9" fill="#00c0f7"/><circle cx="141.7" cy="244.5" r="1.9" fill="#00b1f5"/><circle cx="140.3" cy="244.6" r="1.9" fill="#00c1f7"/><circle cx="138.7" cy="243.3" r="1.9" fill="#00c3f7"/><circle cx="137.7" cy="242.8" r="1.9" fill="#00bff6"/>
<circle cx="240.0" cy="202.0" r="1.9" fill="#00adf5"/><circle cx="241.4" cy="199.8" r="1.9" fill="#02a7f5"/><circle cx="246.3" cy="197.8" r="1.9" fill="#f213fb"/><circle cx="248.7" cy="197.9" r="1.9" fill="#f213fb"/><circle cx="250.0" cy="198.0" r="1.9" fill="#00f1fd"/><circle cx="251.6" cy="197.0" r="1.9" fill="#ba49f6"/><circle cx="253.0" cy="197.7" r="1.9" fill="#b051f5"/><circle cx="254.7" cy="197.8" r="1.9" fill="#f60dfc"/><circle cx="256.7" cy="196.9" r="1.9" fill="#da2ef7"/><circle cx="258.2" cy="196.7" r="1.9" fill="#dd2cf7"/><circle cx="259.8" cy="195.5" r="1.9" fill="#fb05fd"/><circle cx="261.3" cy="196.0" r="1.9" fill="#ba49f6"/><circle cx="261.9" cy="197.0" r="1.9" fill="#ee19fa"/><circle cx="263.7" cy="197.9" r="1.9" fill="#a05ff5"/><circle cx="264.9" cy="199.2" r="1.9" fill="#fb06fd"/><circle cx="265.9" cy="199.6" r="1.9" fill="#9b63f5"/><circle cx="267.7" cy="201.2" r="1.9" fill="#cf38f7"/><circle cx="269.2" cy="201.5" r="1.9" fill="#b64df6"/><circle cx="270.0" cy="202.9" r="1.9" fill="#c540f6"/><circle cx="271.8" cy="203.8" r="1.9" fill="#e129f7"/><circle cx="272.2" cy="205.9" r="1.9" fill="#9766f5"/><circle cx="273.0" cy="207.1" r="1.9" fill="#6185f5"/><circle cx="274.0" cy="208.3" r="1.9" fill="#ce39f6"/><circle cx="274.9" cy="209.9" r="1.9" fill="#b54ef6"/><circle cx="276.1" cy="211.7" r="1.9" fill="#9269f5"/><circle cx="275.8" cy="213.1" r="1.9" fill="#e327f7"/><circle cx="275.3" cy="215.0" r="1.9" fill="#737bf5"/><circle cx="275.8" cy="216.1" r="1.9" fill="#a45cf5"/><circle cx="275.1" cy="218.2" r="1.9" fill="#717df5"/><circle cx="273.8" cy="218.4" r="1.9" fill="#4492f5"/><circle cx="272.6" cy="218.4" r="1.9" fill="#7f74f5"/><circle cx="271.0" cy="217.5" r="1.9" fill="#7c76f5"/><circle cx="268.9" cy="216.6" r="1.9" fill="#6981f5"/><circle cx="267.5" cy="216.5" r="1.9" fill="#00c8f7"/><circle cx="266.3" cy="215.3" r="1.9" fill="#0ea3f5"/><circle cx="264.8" cy="214.7" r="1.9" fill="#00b7f6"/><circle cx="263.6" cy="213.6" r="1.9" fill="#00aef5"/><circle cx="261.5" cy="212.7" r="1.9" fill="#00c9f7"/><circle cx="260.5" cy="211.8" r="1.9" fill="#249df5"/><circle cx="258.8" cy="211.2" r="1.9" fill="#00bbf6"/><circle cx="257.9" cy="210.1" r="1.9" fill="#00abf5"/><circle cx="256.4" cy="209.2" r="1.9" fill="#0da3f5"/><circle cx="254.8" cy="208.0" r="1.9" fill="#00aaf5"/><circle cx="252.7" cy="208.3" r="1.9" fill="#00aef5"/><circle cx="251.0" cy="208.2" r="1.9" fill="#00c9f7"/><circle cx="249.3" cy="207.7" r="1.9" fill="#757af5"/><circle cx="248.3" cy="209.0" r="1.9" fill="#8e6bf5"/><circle cx="246.4" cy="209.5" r="1.9" fill="#8c6cf5"/><circle cx="244.5" cy="209.7" r="1.9" fill="#9b63f5"/><circle cx="242.9" cy="209.0" r="1.9" fill="#9e61f5"/><circle cx="242.9" cy="208.0" r="1.9" fill="#707df5"/><circle cx="242.7" cy="205.9" r="1.9" fill="#00adf5"/><circle cx="242.5" cy="204.5" r="1.9" fill="#00cdf8"/><circle cx="240.5" cy="203.5" r="1.9" fill="#00bff6"/><circle cx="240.3" cy="202.0" r="1.9" fill="#00b2f5"/>
<circle cx="59.6" cy="295.9" r="1.9" fill="#747bf5"/><circle cx="60.8" cy="295.5" r="1.9" fill="#6d7ff5"/><circle cx="62.4" cy="294.3" r="1.9" fill="#8372f5"/><circle cx="63.5" cy="292.8" r="1.9" fill="#2f99f5"/><circle cx="64.3" cy="292.1" r="1.9" fill="#4a8ff5"/><circle cx="65.0" cy="288.5" r="1.9" fill="#00f0ff"/><circle cx="70.8" cy="285.4" r="1.9" fill="#737bf5"/><circle cx="73.0" cy="285.0" r="1.9" fill="#a55bf5"/><circle cx="74.3" cy="284.0" r="1.9" fill="#8e6bf5"/><circle cx="76.4" cy="283.2" r="1.9" fill="#8073f5"/><circle cx="78.0" cy="283.0" r="1.9" fill="#896ef5"/><circle cx="79.0" cy="282.4" r="1.9" fill="#ab56f5"/><circle cx="81.1" cy="282.1" r="1.9" fill="#a35cf5"/><circle cx="82.2" cy="282.6" r="1.9" fill="#8c6cf5"/><circle cx="83.8" cy="282.7" r="1.9" fill="#a25df5"/><circle cx="85.3" cy="283.5" r="1.9" fill="#9964f5"/><circle cx="86.7" cy="284.2" r="1.9" fill="#886ff5"/><circle cx="87.0" cy="285.8" r="1.9" fill="#a958f5"/><circle cx="87.6" cy="287.4" r="1.9" fill="#8c6cf5"/><circle cx="88.4" cy="289.6" r="1.9" fill="#8570f5"/><circle cx="86.9" cy="290.7" r="1.9" fill="#6384f5"/><circle cx="86.3" cy="291.9" r="1.9" fill="#4d8ef5"/><circle cx="84.6" cy="293.0" r="1.9" fill="#3597f5"/><circle cx="83.7" cy="294.7" r="1.9" fill="#00b7f6"/><circle cx="82.7" cy="295.7" r="1.9" fill="#18a0f5"/><circle cx="81.3" cy="297.1" r="1.9" fill="#7b76f5"/><circle cx="80.1" cy="298.2" r="1.9" fill="#6e7ef5"/><circle cx="79.0" cy="299.5" r="1.9" fill="#508df5"/><circle cx="77.9" cy="300.5" r="1.9" fill="#8372f5"/><circle cx="76.2" cy="301.5" r="1.9" fill="#707df5"/><circle cx="75.2" cy="302.6" r="1.9" fill="#6e7ef5"/><circle cx="73.6" cy="303.5" r="1.9" fill="#548bf5"/><circle cx="72.7" cy="305.2" r="1.9" fill="#6d7ff5"/><circle cx="72.6" cy="306.4" r="1.9" fill="#7f74f5"/><circle cx="71.2" cy="307.7" r="1.9" fill="#9765f5"/><circle cx="70.6" cy="307.1" r="1.9" fill="#896ef5"/><circle cx="69.4" cy="305.8" r="1.9" fill="#7977f5"/><circle cx="68.1" cy="305.0" r="1.9" fill="#7e75f5"/><circle cx="66.0" cy="304.5" r="1.9" fill="#9567f5"/><circle cx="64.2" cy="304.5" r="1.9" fill="#876ff5"/><circle cx="62.7" cy="304.0" r="1.9" fill="#249df5"/><circle cx="61.3" cy="304.9" r="1.9" fill="#6e7ef5"/><circle cx="59.9" cy="304.1" r="1.9" fill="#5789f5"/><circle cx="58.9" cy="302.8" r="1.9" fill="#767af5"/><circle cx="59.0" cy="301.1" r="1.9" fill="#4c8ef5"/><circle cx="59.4" cy="299.2" r="1.9" fill="#7e75f5"/><circle cx="59.2" cy="297.6" r="1.9" fill="#9666f5"/>
<circle cx="139.2" cy="239.3" r="1.9" fill="#00f3fd"/><circle cx="146.5" cy="234.9" r="1.9" fill="#00e6fb"/><circle cx="147.9" cy="233.8" r="1.9" fill="#00d8f9"/><circle cx="151.7" cy="231.1" r="1.9" fill="#00f3fd"/><circle cx="153.5" cy="230.1" r="1.9" fill="#00e6fb"/><circle cx="156.7" cy="228.2" r="1.9" fill="#00d8f9"/><circle cx="160.0" cy="224.4" r="1.9" fill="#00f3fd"/><circle cx="163.4" cy="221.8" r="1.9" fill="#00e6fb"/><circle cx="164.6" cy="220.1" r="1.9" fill="#00d8f9"/><circle cx="169.2" cy="217.1" r="1.9" fill="#00f3fd"/><circle cx="171.0" cy="216.0" r="1.9" fill="#00e6fb"/><circle cx="186.7" cy="209.5" r="1.9" fill="#00d8f9"/><circle cx="188.8" cy="210.4" r="1.9" fill="#00f3fd"/><circle cx="191.1" cy="211.0" r="1.9" fill="#00e6fb"/><circle cx="197.0" cy="207.5" r="1.9" fill="#00d8f9"/><circle cx="198.7" cy="206.9" r="1.9" fill="#00f3fd"/><circle cx="190.7" cy="212.6" r="1.9" fill="#9567f5"/><circle cx="192.6" cy="214.5" r="1.9" fill="#b54df6"/><circle cx="195.1" cy="216.3" r="1.9" fill="#f70cfc"/><circle cx="197.3" cy="215.1" r="1.9" fill="#e824f8"/><circle cx="198.1" cy="213.0" r="1.9" fill="#9567f5"/><circle cx="196.1" cy="211.3" r="1.9" fill="#00d5f9"/><circle cx="193.7" cy="218.0" r="1.9" fill="#876ff5"/><circle cx="194.3" cy="220.6" r="1.9" fill="#7978f5"/><circle cx="191.4" cy="210.7" r="1.9" fill="#00c8f7"/><circle cx="73.6" cy="311.1" r="1.8" fill="#9567f5"/><circle cx="74.1" cy="312.7" r="1.8" fill="#9567f5"/><circle cx="74.6" cy="314.2" r="1.8" fill="#9567f5"/><circle cx="75.0" cy="315.7" r="1.8" fill="#9567f5"/><circle cx="74.4" cy="317.0" r="1.8" fill="#9567f5"/><circle cx="73.3" cy="318.1" r="1.8" fill="#9567f5"/><circle cx="72.4" cy="319.4" r="1.8" fill="#9567f5"/><circle cx="71.9" cy="320.8" r="1.8" fill="#00aff5"/><circle cx="72.1" cy="322.4" r="1.8" fill="#00aff5"/><circle cx="72.6" cy="323.0" r="1.8" fill="#4b8ff5"/><circle cx="73.8" cy="321.9" r="1.8" fill="#4b8ff5"/><circle cx="74.9" cy="320.8" r="1.8" fill="#00c8f7"/><circle cx="76.1" cy="319.7" r="1.8" fill="#00c8f7"/><circle cx="77.2" cy="320.5" r="1.8" fill="#00aff5"/><circle cx="78.3" cy="321.7" r="1.8" fill="#4b8ff5"/><circle cx="79.5" cy="322.7" r="1.8" fill="#4b8ff5"/><circle cx="80.2" cy="323.0" r="1.8" fill="#00c8f7"/>
<rect x="43.5" y="183.7" width="255.0" height="155.0" fill="none" stroke="#000" stroke-width="1.1"/>
<path d="M43.5 201.7h-2.6M298.5 201.7h2.6M43.5 231.9h-2.6M298.5 231.9h2.6M43.5 262.1h-2.6M298.5 262.1h2.6M43.5 292.3h-2.6M298.5 292.3h2.6M43.5 322.5h-2.6M298.5 322.5h2.6M43.5 338.7v2.6M78.9 338.7v2.6M114.4 338.7v2.6M149.8 338.7v2.6M185.2 338.7v2.6M220.7 338.7v2.6M256.1 338.7v2.6M291.5 338.7v2.6M46.1 183.7v-2.6M80.8 183.7v-2.6M115.5 183.7v-2.6M150.1 183.7v-2.6M184.8 183.7v-2.6M219.5 183.7v-2.6M254.2 183.7v-2.6M288.9 183.7v-2.6" stroke="#000" stroke-width="1" fill="none"/>
<text x="37.9" y="206.1" font-size="8.2" text-anchor="end" font-weight="normal" fill="#000" stroke="#000" stroke-width="0.14">40<tspan font-size="7" dy="-4.5" stroke-width="0.2">o</tspan><tspan dy="4.5">N</tspan></text>
<text x="38.8" y="234.3" font-size="6.9" text-anchor="end" font-weight="normal" fill="#000">40'</text>
<text x="38.8" y="264.5" font-size="6.9" text-anchor="end" font-weight="normal" fill="#000">20'</text>
<text x="37.9" y="296.7" font-size="8.2" text-anchor="end" font-weight="normal" fill="#000" stroke="#000" stroke-width="0.14">39<tspan font-size="7" dy="-4.5" stroke-width="0.2">o</tspan><tspan dy="4.5">N</tspan></text>
<text x="38.8" y="324.9" font-size="6.9" text-anchor="end" font-weight="normal" fill="#000">40'</text>
<text x="45.8" y="351.7" font-size="8.2" text-anchor="middle" font-weight="normal" fill="#000" stroke="#000" stroke-width="0.14">1<tspan font-size="7" dy="-4.5" stroke-width="0.2">o</tspan><tspan dy="4.5">E</tspan></text>
<text x="79.4" y="348.1" font-size="6.9" text-anchor="middle" font-weight="normal" fill="#000">30'</text>
<text x="116.7" y="351.7" font-size="8.2" text-anchor="middle" font-weight="normal" fill="#000" stroke="#000" stroke-width="0.14">2<tspan font-size="7" dy="-4.5" stroke-width="0.2">o</tspan><tspan dy="4.5">E</tspan></text>
<text x="150.3" y="348.1" font-size="6.9" text-anchor="middle" font-weight="normal" fill="#000">30'</text>
<text x="187.5" y="351.7" font-size="8.2" text-anchor="middle" font-weight="normal" fill="#000" stroke="#000" stroke-width="0.14">3<tspan font-size="7" dy="-4.5" stroke-width="0.2">o</tspan><tspan dy="4.5">E</tspan></text>
<text x="221.2" y="348.1" font-size="6.9" text-anchor="middle" font-weight="normal" fill="#000">30'</text>
<text x="258.4" y="351.7" font-size="8.2" text-anchor="middle" font-weight="normal" fill="#000" stroke="#000" stroke-width="0.14">4<tspan font-size="7" dy="-4.5" stroke-width="0.2">o</tspan><tspan dy="4.5">E</tspan></text>
<text x="292.0" y="348.1" font-size="6.9" text-anchor="middle" font-weight="normal" fill="#000">30'</text>
<text x="59.8" y="206.8" font-size="12.2" text-anchor="start" font-weight="normal" fill="#000">C) Beaches</text>
<polygon points="439.6,241.0 442.5,238.6 446.1,236.2 450.9,232.9 454.9,229.7 459.7,226.5 464.5,221.7 470.1,216.9 476.6,213.7 483.0,210.5 489.4,209.7 494.2,208.0 498.3,206.4 501.5,206.1 500.7,207.7 496.6,210.0 494.2,211.3 495.0,214.5 496.6,218.5 497.4,222.5 500.7,224.9 505.5,226.5 509.5,224.9 511.1,222.5 513.5,222.2 516.7,224.9 519.9,227.3 520.7,229.7 518.3,232.9 515.9,237.0 513.5,241.8 511.1,245.0 509.5,249.8 507.1,253.8 505.5,257.0 503.1,260.2 499.9,263.5 496.6,265.9 493.4,268.3 491.8,269.4 489.4,267.5 487.0,265.1 484.6,261.8 481.4,261.0 478.2,260.7 475.0,260.2 471.8,257.8 469.8,254.6 469.3,250.6 468.5,247.4 466.1,244.2 462.1,242.6 458.9,243.4 455.7,245.8 454.1,249.0 453.3,251.4 450.9,249.8 448.5,246.6 445.3,245.0 442.8,244.2 440.4,242.6" fill="#b2b2b2"/>
<polygon points="542.3,201.5 543.8,198.5 546.3,197.5 550.4,198.0 553.5,197.0 557.6,197.3 560.7,195.9 562.7,194.9 564.2,197.0 566.8,198.5 569.3,200.0 571.9,202.1 574.5,204.1 576.0,207.2 577.5,210.2 578.8,212.8 578.0,215.9 577.5,218.9 575.0,218.4 570.9,216.9 566.8,214.8 562.7,212.3 559.6,209.7 556.6,208.2 552.5,207.9 549.4,209.2 545.3,209.5 544.3,207.2 544.8,205.1 542.8,203.6" fill="#b2b2b2"/>
<polygon points="362.2,295.8 365.2,294.8 366.8,292.2 367.8,289.1 370.4,287.1 374.4,285.6 378.5,284.0 382.6,282.5 385.7,283.0 388.8,284.5 389.3,287.6 389.8,290.2 387.7,292.2 385.7,294.3 383.7,296.3 381.1,298.3 379.1,300.4 377.0,301.9 375.0,304.0 374.4,307.0 372.9,307.0 371.9,305.0 369.3,304.0 366.3,303.5 363.7,304.5 362.0,302.4 362.4,299.4" fill="#b2b2b2"/>
<polygon points="373.4,320.3 375.0,318.3 377.0,317.8 379.6,318.8 380.6,320.9 382.6,322.4 384.7,321.4 386.7,321.9 386.9,323.4 385.2,324.2 382.6,323.6 380.1,321.9 378.0,321.4 376.0,322.9 374.4,325.0 373.2,324.4" fill="#b2b2b2"/>
<circle cx="484.4" cy="279.7" r="0.9" fill="#c8c8c8"/>
<circle cx="465.7" cy="221.4" r="1.9" fill="#9966ff"/><circle cx="493.4" cy="211.7" r="1.9" fill="#8080ff"/><circle cx="497.4" cy="215.0" r="1.9" fill="#c050f0"/><circle cx="497.0" cy="218.5" r="1.9" fill="#00c8ff"/><circle cx="498.3" cy="224.1" r="1.9" fill="#d040f0"/><circle cx="502.6" cy="226.5" r="1.9" fill="#d040f0"/><circle cx="506.3" cy="226.5" r="1.9" fill="#c850f0"/><circle cx="519.4" cy="229.2" r="1.9" fill="#e030f0"/><circle cx="514.6" cy="237.8" r="1.9" fill="#7090ff"/><circle cx="510.8" cy="244.7" r="1.9" fill="#ff00e0"/><circle cx="505.5" cy="255.1" r="1.9" fill="#c050f0"/><circle cx="502.3" cy="260.7" r="1.9" fill="#8080ff"/><circle cx="499.1" cy="263.5" r="1.9" fill="#7070f0"/><circle cx="487.3" cy="265.1" r="1.9" fill="#c050f0"/><circle cx="484.1" cy="261.0" r="1.9" fill="#b060f0"/><circle cx="481.4" cy="261.0" r="1.9" fill="#b060f0"/><circle cx="469.3" cy="248.2" r="1.9" fill="#6090ff"/><circle cx="467.3" cy="245.3" r="1.9" fill="#5098ff"/><circle cx="465.7" cy="243.9" r="1.9" fill="#40a0ff"/><circle cx="462.1" cy="242.9" r="1.9" fill="#00c0ff"/><circle cx="458.9" cy="243.7" r="1.9" fill="#00c0ff"/><circle cx="456.0" cy="245.8" r="1.9" fill="#00c8ff"/><circle cx="453.8" cy="250.6" r="1.9" fill="#00c0ff"/><circle cx="450.6" cy="249.0" r="1.9" fill="#a060f0"/><circle cx="449.6" cy="246.9" r="1.9" fill="#6090ff"/><circle cx="443.7" cy="244.2" r="1.9" fill="#c050f0"/><circle cx="544.5" cy="203.6" r="1.9" fill="#8080ff"/><circle cx="565.8" cy="197.5" r="1.9" fill="#ff00e0"/><circle cx="575.5" cy="212.1" r="1.9" fill="#6090ff"/><circle cx="367.5" cy="294.8" r="1.9" fill="#3c96ff"/><circle cx="384.5" cy="294.8" r="1.9" fill="#3c96ff"/><circle cx="378.2" cy="300.9" r="1.9" fill="#00c0ff"/><circle cx="375.9" cy="317.3" r="1.9" fill="#20b0ff"/>
<rect x="345.5" y="183.7" width="255.5" height="155.0" fill="none" stroke="#000" stroke-width="1.1"/>
<path d="M345.5 201.7h-2.6M601.0 201.7h2.6M345.5 231.9h-2.6M601.0 231.9h2.6M345.5 262.1h-2.6M601.0 262.1h2.6M345.5 292.3h-2.6M601.0 292.3h2.6M345.5 322.5h-2.6M601.0 322.5h2.6M345.5 338.7v2.6M380.9 338.7v2.6M416.4 338.7v2.6M451.8 338.7v2.6M487.2 338.7v2.6M522.6 338.7v2.6M558.1 338.7v2.6M593.5 338.7v2.6M348.1 183.7v-2.6M382.8 183.7v-2.6M417.5 183.7v-2.6M452.1 183.7v-2.6M486.8 183.7v-2.6M521.5 183.7v-2.6M556.2 183.7v-2.6M590.9 183.7v-2.6" stroke="#000" stroke-width="1" fill="none"/>
<text x="339.9" y="206.1" font-size="8.2" text-anchor="end" font-weight="normal" fill="#000" stroke="#000" stroke-width="0.14">40<tspan font-size="7" dy="-4.5" stroke-width="0.2">o</tspan><tspan dy="4.5">N</tspan></text>
<text x="340.8" y="234.3" font-size="6.9" text-anchor="end" font-weight="normal" fill="#000">40'</text>
<text x="340.8" y="264.5" font-size="6.9" text-anchor="end" font-weight="normal" fill="#000">20'</text>
<text x="339.9" y="296.7" font-size="8.2" text-anchor="end" font-weight="normal" fill="#000" stroke="#000" stroke-width="0.14">39<tspan font-size="7" dy="-4.5" stroke-width="0.2">o</tspan><tspan dy="4.5">N</tspan></text>
<text x="340.8" y="324.9" font-size="6.9" text-anchor="end" font-weight="normal" fill="#000">40'</text>
<text x="347.8" y="351.7" font-size="8.2" text-anchor="middle" font-weight="normal" fill="#000" stroke="#000" stroke-width="0.14">1<tspan font-size="7" dy="-4.5" stroke-width="0.2">o</tspan><tspan dy="4.5">E</tspan></text>
<text x="381.4" y="348.1" font-size="6.9" text-anchor="middle" font-weight="normal" fill="#000">30'</text>
<text x="418.7" y="351.7" font-size="8.2" text-anchor="middle" font-weight="normal" fill="#000" stroke="#000" stroke-width="0.14">2<tspan font-size="7" dy="-4.5" stroke-width="0.2">o</tspan><tspan dy="4.5">E</tspan></text>
<text x="452.3" y="348.1" font-size="6.9" text-anchor="middle" font-weight="normal" fill="#000">30'</text>
<text x="489.5" y="351.7" font-size="8.2" text-anchor="middle" font-weight="normal" fill="#000" stroke="#000" stroke-width="0.14">3<tspan font-size="7" dy="-4.5" stroke-width="0.2">o</tspan><tspan dy="4.5">E</tspan></text>
<text x="523.1" y="348.1" font-size="6.9" text-anchor="middle" font-weight="normal" fill="#000">30'</text>
<text x="560.4" y="351.7" font-size="8.2" text-anchor="middle" font-weight="normal" fill="#000" stroke="#000" stroke-width="0.14">4<tspan font-size="7" dy="-4.5" stroke-width="0.2">o</tspan><tspan dy="4.5">E</tspan></text>
<text x="594.0" y="348.1" font-size="6.9" text-anchor="middle" font-weight="normal" fill="#000">30'</text>
<text x="361.8" y="206.8" font-size="12.2" text-anchor="start" font-weight="normal" fill="#000">D) Dikes</text>
<text x="10.2" y="81.5" font-size="10.8" text-anchor="middle" font-weight="normal" fill="#262626" transform="rotate(-90 10.2 81.5)">Latitude(<tspan font-size="8" dy="-3.9">o</tspan><tspan dy="3.9">)</tspan></text>
<text x="10.2" y="261.7" font-size="10.8" text-anchor="middle" font-weight="normal" fill="#262626" transform="rotate(-90 10.2 261.7)">Latitude(<tspan font-size="8" dy="-3.9">o</tspan><tspan dy="3.9">)</tspan></text>
<text x="171.0" y="363.6" font-size="10.8" text-anchor="middle" font-weight="normal" fill="#262626">Longitude(<tspan font-size="8" dy="-3.9">o</tspan><tspan dy="3.9">)</tspan></text>
<text x="472.5" y="363.6" font-size="10.8" text-anchor="middle" font-weight="normal" fill="#262626">Longitude(<tspan font-size="8" dy="-3.9">o</tspan><tspan dy="3.9">)</tspan></text>
<rect x="187.3" y="88.8" width="80.2" height="55.2" fill="#fff"/>
<path d="M192.6 88.8V144.0M198.0 88.8V144.0M203.3 88.8V144.0M208.7 88.8V144.0M214.0 88.8V144.0M219.4 88.8V144.0M224.7 88.8V144.0M230.1 88.8V144.0M235.4 88.8V144.0M240.8 88.8V144.0M246.1 88.8V144.0M251.5 88.8V144.0M256.8 88.8V144.0M262.2 88.8V144.0M187.3 138.5H267.5M187.3 133.0H267.5M187.3 127.4H267.5M187.3 121.9H267.5M187.3 116.4H267.5M187.3 110.9H267.5M187.3 105.4H267.5M187.3 99.8H267.5M187.3 94.3H267.5" stroke="#dcdcdc" stroke-width="0.6" fill="none"/>
<g fill="#009090" stroke="#007878" stroke-width="0.3"><rect x="197.99" y="123.30" width="2.67" height="20.70"/><rect x="200.67" y="106.19" width="2.67" height="37.81"/><rect x="203.34" y="90.46" width="2.67" height="53.54"/><rect x="206.01" y="103.70" width="2.67" height="40.30"/><rect x="208.69" y="124.13" width="2.67" height="19.87"/><rect x="211.36" y="121.92" width="2.67" height="22.08"/><rect x="214.03" y="131.86" width="2.67" height="12.14"/><rect x="216.71" y="140.96" width="2.67" height="3.04"/><rect x="219.38" y="139.03" width="2.67" height="4.97"/><rect x="222.05" y="140.69" width="2.67" height="3.31"/><rect x="224.73" y="140.96" width="2.67" height="3.04"/><rect x="227.40" y="141.52" width="2.67" height="2.48"/><rect x="230.07" y="140.69" width="2.67" height="3.31"/><rect x="232.75" y="143.17" width="2.67" height="0.83"/><rect x="235.42" y="143.72" width="2.67" height="0.28"/><rect x="238.09" y="143.72" width="2.67" height="0.28"/><rect x="240.77" y="143.17" width="2.67" height="0.83"/><rect x="243.44" y="142.62" width="2.67" height="1.38"/><rect x="246.11" y="141.52" width="2.67" height="2.48"/><rect x="248.79" y="141.24" width="2.67" height="2.76"/><rect x="251.46" y="141.79" width="2.67" height="2.21"/></g>
<rect x="187.3" y="88.8" width="80.2" height="55.2" fill="none" stroke="#333" stroke-width="0.7"/>
<text x="187.3" y="154.9" font-size="8.8" text-anchor="middle" font-weight="normal" fill="#262626" stroke="#262626" stroke-width="0.14">0</text>
<text x="214.0" y="154.9" font-size="8.8" text-anchor="middle" font-weight="normal" fill="#262626" stroke="#262626" stroke-width="0.14">1</text>
<text x="240.8" y="154.9" font-size="8.8" text-anchor="middle" font-weight="normal" fill="#262626" stroke="#262626" stroke-width="0.14">2</text>
<text x="267.5" y="154.9" font-size="8.8" text-anchor="middle" font-weight="normal" fill="#262626" stroke="#262626" stroke-width="0.14">3</text>
<text x="269.5" y="147.9" font-size="8.9" text-anchor="start" font-weight="normal" fill="#262626" stroke="#262626" stroke-width="0.14">0</text>
<text x="269.5" y="142.4" font-size="8.9" text-anchor="start" font-weight="normal" fill="#262626" stroke="#262626" stroke-width="0.14">20</text>
<text x="269.5" y="136.9" font-size="8.9" text-anchor="start" font-weight="normal" fill="#262626" stroke="#262626" stroke-width="0.14">40</text>
<text x="269.5" y="131.3" font-size="8.9" text-anchor="start" font-weight="normal" fill="#262626" stroke="#262626" stroke-width="0.14">60</text>
<text x="269.5" y="125.8" font-size="8.9" text-anchor="start" font-weight="normal" fill="#262626" stroke="#262626" stroke-width="0.14">80</text>
<text x="269.5" y="120.3" font-size="8.9" text-anchor="start" font-weight="normal" fill="#262626" stroke="#262626" stroke-width="0.14">100</text>
<text x="269.5" y="114.8" font-size="8.9" text-anchor="start" font-weight="normal" fill="#262626" stroke="#262626" stroke-width="0.14">120</text>
<text x="269.5" y="109.3" font-size="8.9" text-anchor="start" font-weight="normal" fill="#262626" stroke="#262626" stroke-width="0.14">140</text>
<text x="269.5" y="103.7" font-size="8.9" text-anchor="start" font-weight="normal" fill="#262626" stroke="#262626" stroke-width="0.14">160</text>
<text x="269.5" y="98.2" font-size="8.9" text-anchor="start" font-weight="normal" fill="#262626" stroke="#262626" stroke-width="0.14">180</text>
<text x="269.5" y="92.7" font-size="8.9" text-anchor="start" font-weight="normal" fill="#262626" stroke="#262626" stroke-width="0.14">200</text>
<text x="226.6" y="86.0" font-size="10.3" text-anchor="middle" font-weight="bold" fill="#000">eTWL(m)</text>
<text x="296.4" y="116.6" font-size="10.0" text-anchor="middle" font-weight="normal" fill="#262626" transform="rotate(-90 296.4 116.6)" stroke="#262626" stroke-width="0.14">N<tspan font-size="7.2" dy="-3.6">o</tspan><tspan dy="3.6">Beaches</tspan></text>
<rect x="477.3" y="92.7" width="103.9" height="48.5" fill="#fff"/>
<path d="M486.0 92.7V141.2M494.6 92.7V141.2M503.3 92.7V141.2M511.9 92.7V141.2M520.6 92.7V141.2M529.2 92.7V141.2M537.9 92.7V141.2M546.6 92.7V141.2M555.2 92.7V141.2M563.9 92.7V141.2M572.5 92.7V141.2M477.3 133.1H581.2M477.3 125.0H581.2M477.3 116.9H581.2M477.3 108.9H581.2M477.3 100.8H581.2" stroke="#dcdcdc" stroke-width="0.6" fill="none"/>
<g fill="#009090" stroke="#007878" stroke-width="0.3"><rect x="508.47" y="92.70" width="4.24" height="48.50"/><rect x="521.19" y="104.72" width="4.66" height="36.48"/><rect x="525.86" y="117.37" width="4.24" height="23.83"/><rect x="530.10" y="92.70" width="4.24" height="48.50"/><rect x="534.34" y="117.37" width="4.24" height="23.83"/><rect x="538.58" y="92.70" width="4.24" height="48.50"/><rect x="542.82" y="117.37" width="4.24" height="23.83"/><rect x="547.06" y="104.72" width="4.24" height="36.48"/><rect x="551.30" y="117.37" width="4.24" height="23.83"/><rect x="555.54" y="117.37" width="4.24" height="23.83"/><rect x="559.78" y="129.60" width="4.24" height="11.60"/><rect x="564.02" y="117.37" width="4.24" height="23.83"/><rect x="576.75" y="129.60" width="4.45" height="11.60"/></g>
<rect x="477.3" y="92.7" width="103.9" height="48.5" fill="none" stroke="#333" stroke-width="0.7"/>
<text x="477.3" y="152.1" font-size="8.8" text-anchor="middle" font-weight="normal" fill="#262626" stroke="#262626" stroke-width="0.14">0</text>
<text x="511.9" y="152.1" font-size="8.8" text-anchor="middle" font-weight="normal" fill="#262626" stroke="#262626" stroke-width="0.14">2</text>
<text x="546.6" y="152.1" font-size="8.8" text-anchor="middle" font-weight="normal" fill="#262626" stroke="#262626" stroke-width="0.14">4</text>
<text x="581.2" y="152.1" font-size="8.8" text-anchor="middle" font-weight="normal" fill="#262626" stroke="#262626" stroke-width="0.14">6</text>
<text x="583.8" y="145.1" font-size="8.9" text-anchor="start" font-weight="normal" fill="#262626" stroke="#262626" stroke-width="0.14">0</text>
<text x="583.8" y="137.0" font-size="8.9" text-anchor="start" font-weight="normal" fill="#262626" stroke="#262626" stroke-width="0.14">1</text>
<text x="583.8" y="128.9" font-size="8.9" text-anchor="start" font-weight="normal" fill="#262626" stroke="#262626" stroke-width="0.14">2</text>
<text x="583.8" y="120.8" font-size="8.9" text-anchor="start" font-weight="normal" fill="#262626" stroke="#262626" stroke-width="0.14">3</text>
<text x="583.8" y="112.8" font-size="8.9" text-anchor="start" font-weight="normal" fill="#262626" stroke="#262626" stroke-width="0.14">4</text>
<text x="583.8" y="104.7" font-size="8.9" text-anchor="start" font-weight="normal" fill="#262626" stroke="#262626" stroke-width="0.14">5</text>
<text x="583.8" y="96.6" font-size="8.9" text-anchor="start" font-weight="normal" fill="#262626" stroke="#262626" stroke-width="0.14">6</text>
<text x="529.6" y="89.6" font-size="10.3" text-anchor="middle" font-weight="bold" fill="#000">eTWL(m)</text>
<text x="601.0" y="117.0" font-size="10.0" text-anchor="middle" font-weight="normal" fill="#262626" transform="rotate(-90 601.0 117.0)" stroke="#262626" stroke-width="0.14">N<tspan font-size="7.2" dy="-3.6">o</tspan><tspan dy="3.6">Dikes</tspan></text>
<rect x="188.3" y="276.8" width="82.5" height="45.2" fill="#fff"/>
<path d="M192.4 276.8V322.0M196.6 276.8V322.0M200.7 276.8V322.0M204.8 276.8V322.0M208.9 276.8V322.0M213.1 276.8V322.0M217.2 276.8V322.0M221.3 276.8V322.0M225.4 276.8V322.0M229.6 276.8V322.0M233.7 276.8V322.0M237.8 276.8V322.0M241.9 276.8V322.0M246.1 276.8V322.0M250.2 276.8V322.0M254.3 276.8V322.0M258.4 276.8V322.0M262.6 276.8V322.0M266.7 276.8V322.0M188.3 318.2H270.8M188.3 314.5H270.8M188.3 310.7H270.8M188.3 306.9H270.8M188.3 303.2H270.8M188.3 299.4H270.8M188.3 295.6H270.8M188.3 291.9H270.8M188.3 288.1H270.8M188.3 284.3H270.8M188.3 280.6H270.8" stroke="#dcdcdc" stroke-width="0.6" fill="none"/>
<g fill="#f23cdc" stroke="#e030c8" stroke-width="0.3"><rect x="188.30" y="300.15" width="4.21" height="21.85"/><rect x="192.51" y="319.74" width="4.21" height="2.26"/><rect x="196.72" y="309.19" width="4.21" height="12.81"/><rect x="200.92" y="308.06" width="4.21" height="13.94"/><rect x="205.13" y="304.30" width="4.21" height="17.70"/><rect x="209.34" y="308.06" width="4.21" height="13.94"/><rect x="213.55" y="284.33" width="4.21" height="37.67"/><rect x="217.75" y="306.56" width="4.21" height="15.44"/><rect x="221.96" y="289.61" width="4.21" height="32.39"/><rect x="226.17" y="291.49" width="4.21" height="30.51"/><rect x="230.38" y="286.22" width="4.21" height="35.78"/><rect x="234.58" y="276.80" width="4.21" height="45.20"/><rect x="238.79" y="293.00" width="4.21" height="29.00"/><rect x="243.00" y="304.30" width="4.21" height="17.70"/><rect x="247.21" y="315.60" width="4.21" height="6.40"/><rect x="251.41" y="302.41" width="4.21" height="19.59"/><rect x="255.62" y="298.27" width="4.21" height="23.73"/><rect x="259.83" y="317.10" width="4.21" height="4.90"/><rect x="268.24" y="316.73" width="2.56" height="5.27"/></g>
<rect x="188.3" y="276.8" width="82.5" height="45.2" fill="none" stroke="#333" stroke-width="0.7"/>
<text x="191.4" y="324.0" font-size="8.8" text-anchor="end" font-weight="normal" fill="#262626" transform="rotate(-90 191.4 324.0)" stroke="#262626" stroke-width="0.14">0</text>
<text x="201.7" y="324.0" font-size="8.8" text-anchor="end" font-weight="normal" fill="#262626" transform="rotate(-90 201.7 324.0)" stroke="#262626" stroke-width="0.14">0.2</text>
<text x="212.0" y="324.0" font-size="8.8" text-anchor="end" font-weight="normal" fill="#262626" transform="rotate(-90 212.0 324.0)" stroke="#262626" stroke-width="0.14">0.4</text>
<text x="222.3" y="324.0" font-size="8.8" text-anchor="end" font-weight="normal" fill="#262626" transform="rotate(-90 222.3 324.0)" stroke="#262626" stroke-width="0.14">0.6</text>
<text x="232.7" y="324.0" font-size="8.8" text-anchor="end" font-weight="normal" fill="#262626" transform="rotate(-90 232.7 324.0)" stroke="#262626" stroke-width="0.14">0.8</text>
<text x="243.0" y="324.0" font-size="8.8" text-anchor="end" font-weight="normal" fill="#262626" transform="rotate(-90 243.0 324.0)" stroke="#262626" stroke-width="0.14">1</text>
<text x="253.3" y="324.0" font-size="8.8" text-anchor="end" font-weight="normal" fill="#262626" transform="rotate(-90 253.3 324.0)" stroke="#262626" stroke-width="0.14">1.2</text>
<text x="263.6" y="324.0" font-size="8.8" text-anchor="end" font-weight="normal" fill="#262626" transform="rotate(-90 263.6 324.0)" stroke="#262626" stroke-width="0.14">1.4</text>
<text x="273.9" y="324.0" font-size="8.8" text-anchor="end" font-weight="normal" fill="#262626" transform="rotate(-90 273.9 324.0)" stroke="#262626" stroke-width="0.14">1.6</text>
<text x="272.8" y="325.9" font-size="8.9" text-anchor="start" font-weight="normal" fill="#262626" stroke="#262626" stroke-width="0.14">0</text>
<text x="272.8" y="318.4" font-size="8.9" text-anchor="start" font-weight="normal" fill="#262626" stroke="#262626" stroke-width="0.14">20</text>
<text x="272.8" y="310.8" font-size="8.9" text-anchor="start" font-weight="normal" fill="#262626" stroke="#262626" stroke-width="0.14">40</text>
<text x="272.8" y="303.3" font-size="8.9" text-anchor="start" font-weight="normal" fill="#262626" stroke="#262626" stroke-width="0.14">60</text>
<text x="272.8" y="295.8" font-size="8.9" text-anchor="start" font-weight="normal" fill="#262626" stroke="#262626" stroke-width="0.14">80</text>
<text x="272.8" y="288.2" font-size="8.9" text-anchor="start" font-weight="normal" fill="#262626" stroke="#262626" stroke-width="0.14">100</text>
<text x="272.8" y="280.7" font-size="8.9" text-anchor="start" font-weight="normal" fill="#262626" stroke="#262626" stroke-width="0.14">120</text>
<text x="247.6" y="271.9" font-size="10.3" text-anchor="middle" font-weight="bold" fill="#000">Increase of eTWL(m)</text>
<text x="294.8" y="299.0" font-size="10.0" text-anchor="middle" font-weight="normal" fill="#262626" transform="rotate(-90 294.8 299.0)" stroke="#262626" stroke-width="0.14">N<tspan font-size="7.2" dy="-3.6">o</tspan><tspan dy="3.6">Beaches</tspan></text>
<rect x="487.7" y="274.4" width="88.9" height="48.0" fill="#fff"/>
<path d="M492.1 274.4V322.4M496.6 274.4V322.4M501.0 274.4V322.4M505.5 274.4V322.4M509.9 274.4V322.4M514.4 274.4V322.4M518.8 274.4V322.4M523.3 274.4V322.4M527.7 274.4V322.4M532.1 274.4V322.4M536.6 274.4V322.4M541.0 274.4V322.4M545.5 274.4V322.4M549.9 274.4V322.4M554.4 274.4V322.4M558.8 274.4V322.4M563.3 274.4V322.4M567.7 274.4V322.4M572.2 274.4V322.4M487.7 318.4H576.6M487.7 314.4H576.6M487.7 310.4H576.6M487.7 306.4H576.6M487.7 302.4H576.6M487.7 298.4H576.6M487.7 294.4H576.6M487.7 290.4H576.6M487.7 286.4H576.6M487.7 282.4H576.6M487.7 278.4H576.6" stroke="#dcdcdc" stroke-width="0.6" fill="none"/>
<g fill="#f23cdc" stroke="#e030c8" stroke-width="0.3"><rect x="503.23" y="297.89" width="3.68" height="24.51"/><rect x="506.91" y="286.04" width="7.36" height="36.36"/><rect x="522.03" y="274.40" width="7.15" height="48.00"/><rect x="529.19" y="297.89" width="4.09" height="24.51"/><rect x="533.27" y="286.04" width="6.74" height="36.36"/><rect x="540.02" y="310.14" width="4.09" height="12.26"/><rect x="544.11" y="286.04" width="3.88" height="36.36"/><rect x="547.99" y="310.14" width="3.68" height="12.26"/><rect x="551.67" y="286.04" width="3.68" height="36.36"/><rect x="570.06" y="310.14" width="6.54" height="12.26"/></g>
<rect x="487.7" y="274.4" width="88.9" height="48.0" fill="none" stroke="#333" stroke-width="0.7"/>
<text x="490.8" y="324.4" font-size="8.8" text-anchor="end" font-weight="normal" fill="#262626" transform="rotate(-90 490.8 324.4)" stroke="#262626" stroke-width="0.14">0</text>
<text x="501.9" y="324.4" font-size="8.8" text-anchor="end" font-weight="normal" fill="#262626" transform="rotate(-90 501.9 324.4)" stroke="#262626" stroke-width="0.14">0.2</text>
<text x="513.0" y="324.4" font-size="8.8" text-anchor="end" font-weight="normal" fill="#262626" transform="rotate(-90 513.0 324.4)" stroke="#262626" stroke-width="0.14">0.4</text>
<text x="524.1" y="324.4" font-size="8.8" text-anchor="end" font-weight="normal" fill="#262626" transform="rotate(-90 524.1 324.4)" stroke="#262626" stroke-width="0.14">0.6</text>
<text x="535.2" y="324.4" font-size="8.8" text-anchor="end" font-weight="normal" fill="#262626" transform="rotate(-90 535.2 324.4)" stroke="#262626" stroke-width="0.14">0.8</text>
<text x="546.4" y="324.4" font-size="8.8" text-anchor="end" font-weight="normal" fill="#262626" transform="rotate(-90 546.4 324.4)" stroke="#262626" stroke-width="0.14">1</text>
<text x="557.5" y="324.4" font-size="8.8" text-anchor="end" font-weight="normal" fill="#262626" transform="rotate(-90 557.5 324.4)" stroke="#262626" stroke-width="0.14">1.2</text>
<text x="568.6" y="324.4" font-size="8.8" text-anchor="end" font-weight="normal" fill="#262626" transform="rotate(-90 568.6 324.4)" stroke="#262626" stroke-width="0.14">1.4</text>
<text x="579.7" y="324.4" font-size="8.8" text-anchor="end" font-weight="normal" fill="#262626" transform="rotate(-90 579.7 324.4)" stroke="#262626" stroke-width="0.14">1.6</text>
<text x="578.2" y="326.3" font-size="8.9" text-anchor="start" font-weight="normal" fill="#262626" stroke="#262626" stroke-width="0.14">0</text>
<text x="578.2" y="318.3" font-size="8.9" text-anchor="start" font-weight="normal" fill="#262626" stroke="#262626" stroke-width="0.14">1</text>
<text x="578.2" y="310.3" font-size="8.9" text-anchor="start" font-weight="normal" fill="#262626" stroke="#262626" stroke-width="0.14">2</text>
<text x="578.2" y="302.3" font-size="8.9" text-anchor="start" font-weight="normal" fill="#262626" stroke="#262626" stroke-width="0.14">3</text>
<text x="578.2" y="294.3" font-size="8.9" text-anchor="start" font-weight="normal" fill="#262626" stroke="#262626" stroke-width="0.14">4</text>
<text x="578.2" y="286.3" font-size="8.9" text-anchor="start" font-weight="normal" fill="#262626" stroke="#262626" stroke-width="0.14">5</text>
<text x="578.2" y="278.3" font-size="8.9" text-anchor="start" font-weight="normal" fill="#262626" stroke="#262626" stroke-width="0.14">6</text>
<text x="548.6" y="270.9" font-size="10.3" text-anchor="middle" font-weight="bold" fill="#000">Increase of eTWL(m)</text>
<text x="594.9" y="298.0" font-size="10.0" text-anchor="middle" font-weight="normal" fill="#262626" transform="rotate(-90 594.9 298.0)" stroke="#262626" stroke-width="0.14">N<tspan font-size="7.2" dy="-3.6">o</tspan><tspan dy="3.6">Dikes</tspan></text>
<defs><linearGradient id="gj" x1="0" y1="1" x2="0" y2="0"><stop offset="0.000" stop-color="#00007f"/><stop offset="0.031" stop-color="#00009f"/><stop offset="0.062" stop-color="#0000bf"/><stop offset="0.094" stop-color="#0000df"/><stop offset="0.125" stop-color="#0000ff"/><stop offset="0.156" stop-color="#001fff"/><stop offset="0.188" stop-color="#003fff"/><stop offset="0.219" stop-color="#005fff"/><stop offset="0.250" stop-color="#007fff"/><stop offset="0.281" stop-color="#009fff"/><stop offset="0.312" stop-color="#00bfff"/><stop offset="0.344" stop-color="#00dfff"/><stop offset="0.375" stop-color="#00ffff"/><stop offset="0.406" stop-color="#1fffdf"/><stop offset="0.438" stop-color="#3fffbf"/><stop offset="0.469" stop-color="#5fff9f"/><stop offset="0.500" stop-color="#7fff7f"/><stop offset="0.531" stop-color="#9fff5f"/><stop offset="0.562" stop-color="#bfff3f"/><stop offset="0.594" stop-color="#dfff1f"/><stop offset="0.625" stop-color="#ffff00"/><stop offset="0.656" stop-color="#ffdf00"/><stop offset="0.688" stop-color="#ffbf00"/><stop offset="0.719" stop-color="#ff9f00"/><stop offset="0.750" stop-color="#ff7f00"/><stop offset="0.781" stop-color="#ff5f00"/><stop offset="0.812" stop-color="#ff3f00"/><stop offset="0.844" stop-color="#ff1f00"/><stop offset="0.875" stop-color="#ff0000"/><stop offset="0.906" stop-color="#df0000"/><stop offset="0.938" stop-color="#bf0000"/><stop offset="0.969" stop-color="#9f0000"/><stop offset="1.000" stop-color="#7f0000"/></linearGradient></defs>
<rect x="615.4" y="6.0" width="19.6" height="152.5" fill="url(#gj)" stroke="#444" stroke-width="0.5"/>
<path d="M635.0 158.5h-2" stroke="#333" stroke-width="0.5"/>
<text x="639.2" y="162.4" font-size="8.9" text-anchor="start" font-weight="normal" fill="#262626">0</text>
<path d="M635.0 128.0h-2" stroke="#333" stroke-width="0.5"/>
<text x="639.2" y="131.9" font-size="8.9" text-anchor="start" font-weight="normal" fill="#262626">1</text>
<path d="M635.0 97.5h-2" stroke="#333" stroke-width="0.5"/>
<text x="639.2" y="101.4" font-size="8.9" text-anchor="start" font-weight="normal" fill="#262626">2</text>
<path d="M635.0 67.0h-2" stroke="#333" stroke-width="0.5"/>
<text x="639.2" y="70.9" font-size="8.9" text-anchor="start" font-weight="normal" fill="#262626">3</text>
<path d="M635.0 36.5h-2" stroke="#333" stroke-width="0.5"/>
<text x="639.2" y="40.4" font-size="8.9" text-anchor="start" font-weight="normal" fill="#262626">4</text>
<path d="M635.0 6.0h-2" stroke="#333" stroke-width="0.5"/>
<text x="639.2" y="9.9" font-size="8.9" text-anchor="start" font-weight="normal" fill="#262626">5</text>
<text x="659.6" y="82.0" font-size="12.45" text-anchor="middle" font-weight="normal" fill="#262626" transform="rotate(90 659.6 82.0)">TWL (m)</text>
<defs><linearGradient id="gc" x1="0" y1="1" x2="0" y2="0"><stop offset="0.000" stop-color="#00ffff"/><stop offset="0.031" stop-color="#00f6fd"/><stop offset="0.062" stop-color="#00edfc"/><stop offset="0.094" stop-color="#00e4fb"/><stop offset="0.125" stop-color="#00dcfa"/><stop offset="0.156" stop-color="#00d3f8"/><stop offset="0.188" stop-color="#00cbf7"/><stop offset="0.219" stop-color="#00c3f7"/><stop offset="0.250" stop-color="#00bbf6"/><stop offset="0.281" stop-color="#00b4f5"/><stop offset="0.312" stop-color="#00acf5"/><stop offset="0.344" stop-color="#10a3f5"/><stop offset="0.375" stop-color="#3597f5"/><stop offset="0.406" stop-color="#4f8df5"/><stop offset="0.438" stop-color="#6782f5"/><stop offset="0.469" stop-color="#707df5"/><stop offset="0.500" stop-color="#7978f5"/><stop offset="0.531" stop-color="#8272f5"/><stop offset="0.562" stop-color="#8b6df5"/><stop offset="0.594" stop-color="#9368f5"/><stop offset="0.625" stop-color="#9c62f5"/><stop offset="0.656" stop-color="#a759f5"/><stop offset="0.688" stop-color="#b151f5"/><stop offset="0.719" stop-color="#bc48f6"/><stop offset="0.750" stop-color="#c63ff6"/><stop offset="0.781" stop-color="#d037f7"/><stop offset="0.812" stop-color="#db2ef7"/><stop offset="0.844" stop-color="#e525f7"/><stop offset="0.875" stop-color="#eb1df9"/><stop offset="0.906" stop-color="#f016fa"/><stop offset="0.938" stop-color="#f50ffc"/><stop offset="0.969" stop-color="#fa07fd"/><stop offset="1.000" stop-color="#ff00ff"/></linearGradient></defs>
<rect x="616.1" y="182.6" width="18.9" height="154.6" fill="url(#gc)" stroke="#444" stroke-width="0.5"/>
<path d="M635.0 337.2h-2" stroke="#333" stroke-width="0.5"/>
<text x="639.2" y="341.1" font-size="8.9" text-anchor="start" font-weight="normal" fill="#262626">0</text>
<path d="M635.0 288.9h-2" stroke="#333" stroke-width="0.5"/>
<text x="639.2" y="292.8" font-size="8.9" text-anchor="start" font-weight="normal" fill="#262626">0.5</text>
<path d="M635.0 240.6h-2" stroke="#333" stroke-width="0.5"/>
<text x="639.2" y="244.5" font-size="8.9" text-anchor="start" font-weight="normal" fill="#262626">1</text>
<path d="M635.0 192.3h-2" stroke="#333" stroke-width="0.5"/>
<text x="639.2" y="196.2" font-size="8.9" text-anchor="start" font-weight="normal" fill="#262626">1.5</text>
<text x="660.6" y="255.0" font-size="12.8" text-anchor="middle" font-weight="normal" fill="#262626" transform="rotate(90 660.6 255.0)">Increase of TWL (m)</text>
<polygon points="37.7,411.2 101.4,408.8 165.1,405.5 228.8,402.7 292.5,400.3 356.1,396.6 419.8,393.0 483.5,389.3 547.2,386.0 610.9,381.6 674.6,377.2 674.6,388.0 610.9,390.5 547.2,393.5 483.5,397.3 419.8,400.2 356.1,402.2 292.5,403.5 228.8,404.9 165.1,407.2 101.4,409.2 37.7,411.2" fill="#cccccc"/>
<polygon points="37.7,411.2 101.4,409.2 165.1,407.2 228.8,404.9 292.5,403.5 356.1,402.2 419.8,400.2 483.5,397.3 547.2,393.5 610.9,390.5 674.6,388.0 674.6,400.6 610.9,401.8 547.2,403.0 483.5,404.7 419.8,406.0 356.1,406.7 292.5,407.2 228.8,407.9 165.1,409.0 101.4,409.8 37.7,411.2" fill="#a9a9d4"/>
<polygon points="37.7,411.2 101.4,409.8 165.1,409.0 228.8,407.9 292.5,407.2 356.1,406.7 419.8,406.0 483.5,404.7 547.2,403.0 610.9,401.8 674.6,400.6 674.6,408.8 610.9,411.5 547.2,414.1 483.5,416.4 419.8,418.4 356.1,420.3 292.5,421.5 228.8,422.8 165.1,424.2 101.4,425.6 37.7,427.0" fill="#6ba0aa"/>
<polygon points="37.7,427.0 101.4,425.6 165.1,424.2 228.8,422.8 292.5,421.5 356.1,420.3 419.8,418.4 483.5,416.4 547.2,414.1 610.9,411.5 674.6,408.8 674.6,411.6 610.9,414.0 547.2,416.0 483.5,418.6 419.8,420.3 356.1,422.2 292.5,422.8 228.8,423.7 165.1,424.7 101.4,425.8 37.7,427.0" fill="#8fcbd2"/>
<polygon points="37.7,427.0 101.4,425.8 165.1,424.7 228.8,423.7 292.5,422.8 356.1,422.2 419.8,420.3 483.5,418.6 547.2,416.0 610.9,414.0 674.6,411.6 674.6,414.7 610.9,417.0 547.2,418.8 483.5,421.3 419.8,422.6 356.1,423.9 292.5,424.4 228.8,424.8 165.1,425.4 101.4,426.0 37.7,427.0" fill="#b4f6d6"/>
<path d="M37.7 367.0V439.2M101.4 367.0V439.2M165.1 367.0V439.2M228.8 367.0V439.2M292.5 367.0V439.2M356.1 367.0V439.2M419.8 367.0V439.2M483.5 367.0V439.2M547.2 367.0V439.2M610.9 367.0V439.2M674.6 367.0V439.2M37.7 367.0H674.6M37.7 385.1H674.6M37.7 403.1H674.6M37.7 421.1H674.6M37.7 439.2H674.6" stroke="#000" stroke-opacity="0.2" stroke-width="1" fill="none" shape-rendering="crispEdges"/>
<path d="M37.7 427.0L101.4 426.0L165.1 425.4L228.8 424.8L292.5 424.4L356.1 423.9L419.8 422.6L483.5 421.3L547.2 418.8L610.9 417.0L674.6 414.7" stroke="#30e860" stroke-width="0.75" fill="none" stroke-dasharray="2.8 2.4"/>
<path d="M37.7 411.2L101.4 409.8L165.1 409.0L228.8 407.9L292.5 407.2L356.1 406.7L419.8 406.0L483.5 404.7L547.2 403.0L610.9 401.8L674.6 400.6" stroke="#109050" stroke-width="0.55" fill="none" stroke-dasharray="2.8 2.4"/>
<path d="M37.7 427.0L101.4 425.8L165.1 424.7L228.8 423.7L292.5 422.8L356.1 422.2L419.8 420.3L483.5 418.6L547.2 416.0L610.9 414.0L674.6 411.6" stroke="#2040e0" stroke-width="0.7" fill="none" stroke-dasharray="2.8 2.4"/>
<path d="M37.7 411.2L101.4 409.2L165.1 407.2L228.8 404.9L292.5 403.5L356.1 402.2L419.8 400.2L483.5 397.3L547.2 393.5L610.9 390.5L674.6 388.0" stroke="#2030d0" stroke-width="0.6" fill="none" stroke-dasharray="2.8 2.4"/>
<path d="M37.7 427.0L101.4 425.6L165.1 424.2L228.8 422.8L292.5 421.5L356.1 420.3L419.8 418.4L483.5 416.4L547.2 414.1L610.9 411.5L674.6 408.8" stroke="#202020" stroke-width="0.7" fill="none" stroke-dasharray="2.8 2.4"/>
<path d="M37.7 411.2L101.4 408.8L165.1 405.5L228.8 402.7L292.5 400.3L356.1 396.6L419.8 393.0L483.5 389.3L547.2 386.0L610.9 381.6L674.6 377.2" stroke="#202020" stroke-width="0.6" fill="none" stroke-dasharray="2.8 2.4"/>
<path d="M37.7 419.1L101.4 417.6L165.1 417.0L228.8 416.5L292.5 415.9L356.1 415.4L419.8 414.1L483.5 412.7L547.2 410.8L610.9 409.0L674.6 406.9" stroke="#00d22a" stroke-width="1.8" fill="none"/>
<path d="M37.7 419.1L101.4 417.2L165.1 415.6L228.8 414.4L292.5 413.2L356.1 411.7L419.8 409.7L483.5 407.7L547.2 404.8L610.9 402.3L674.6 399.3" stroke="#0000e6" stroke-width="1.8" fill="none"/>
<path d="M37.7 419.1L101.4 417.0L165.1 414.6L228.8 413.2L292.5 411.2L356.1 408.7L419.8 406.0L483.5 402.7L547.2 399.2L610.9 396.0L674.6 392.5" stroke="#000000" stroke-width="1.8" fill="none"/>
<path d="M674.6 377.2V414.7" stroke="#223" stroke-width="0.8" stroke-dasharray="2.8 2.4"/>
<path d="M37.9 367.0V439.2H674.6" stroke="#555" stroke-width="1" fill="none"/>
<path d="M101.4 439.2v-6.4M165.1 439.2v-6.4M228.8 439.2v-6.4M292.5 439.2v-6.4M356.1 439.2v-6.4M419.8 439.2v-6.4M483.5 439.2v-6.4M547.2 439.2v-6.4M610.9 439.2v-6.4M674.6 439.2v-6.4M37.7 367.0h7M37.7 385.1h7M37.7 403.1h7M37.7 421.1h7M37.7 439.2h7" stroke="#333" stroke-width="0.7" fill="none"/>
<text x="36.2" y="370.4" font-size="8.2" text-anchor="end" font-weight="normal" fill="#222" stroke="#222" stroke-width="0.14">4</text>
<text x="36.2" y="388.4" font-size="8.2" text-anchor="end" font-weight="normal" fill="#222" stroke="#222" stroke-width="0.14">3</text>
<text x="36.2" y="406.5" font-size="8.2" text-anchor="end" font-weight="normal" fill="#222" stroke="#222" stroke-width="0.14">2</text>
<text x="36.2" y="424.5" font-size="8.2" text-anchor="end" font-weight="normal" fill="#222" stroke="#222" stroke-width="0.14">1</text>
<text x="36.2" y="442.6" font-size="8.2" text-anchor="end" font-weight="normal" fill="#222" stroke="#222" stroke-width="0.14">0</text>
<text x="28.0" y="404.0" font-size="9.2" text-anchor="middle" font-weight="normal" fill="#333" transform="rotate(-90 28.0 404.0)">eTWL (m)</text>
<text x="69.6" y="381.7" font-size="12.4" text-anchor="start" font-weight="normal" fill="#111">A)</text>
<text x="298.9" y="378.3" font-size="9.1" text-anchor="middle" font-weight="bold" fill="#111">TWL evolution on Beaches</text>
<polygon points="37.7,484.2 101.4,482.7 165.1,481.0 228.8,479.7 292.5,478.0 356.1,475.3 419.8,473.0 483.5,470.6 547.2,468.6 610.9,465.6 674.6,462.9 674.6,467.3 610.9,469.1 547.2,471.1 483.5,473.5 419.8,475.3 356.1,477.3 292.5,479.3 228.8,480.4 165.1,481.5 101.4,482.9 37.7,484.2" fill="#cccccc"/>
<polygon points="37.7,484.2 101.4,482.9 165.1,481.5 228.8,480.4 292.5,479.3 356.1,477.3 419.8,475.3 483.5,473.5 547.2,471.1 610.9,469.1 674.6,467.3 674.6,476.0 610.9,477.8 547.2,479.3 483.5,480.5 419.8,481.5 356.1,482.2 292.5,482.2 228.8,482.2 165.1,482.4 101.4,483.3 37.7,484.2" fill="#a9a9d4"/>
<polygon points="37.7,484.2 101.4,483.3 165.1,482.4 228.8,482.2 292.5,482.2 356.1,482.2 419.8,481.5 483.5,480.5 547.2,479.3 610.9,477.8 674.6,476.0 674.6,499.1 610.9,502.1 547.2,504.1 483.5,505.3 419.8,507.0 356.1,508.6 292.5,510.0 228.8,510.8 165.1,512.3 101.4,513.3 37.7,514.0" fill="#6ba0aa"/>
<polygon points="37.7,514.0 101.4,513.3 165.1,512.3 228.8,510.8 292.5,510.0 356.1,508.6 419.8,507.0 483.5,505.3 547.2,504.1 610.9,502.1 674.6,499.1 674.6,501.6 610.9,503.8 547.2,505.8 483.5,507.0 419.8,508.5 356.1,509.7 292.5,510.7 228.8,511.3 165.1,512.6 101.4,513.4 37.7,514.0" fill="#8fcbd2"/>
<polygon points="37.7,514.0 101.4,513.4 165.1,512.6 228.8,511.3 292.5,510.7 356.1,509.7 419.8,508.5 483.5,507.0 547.2,505.8 610.9,503.8 674.6,501.6 674.6,505.8 610.9,507.0 547.2,509.0 483.5,509.5 419.8,510.8 356.1,511.5 292.5,512.0 228.8,512.2 165.1,512.9 101.4,513.5 37.7,514.0" fill="#b4f6d6"/>
<path d="M37.7 451.2V523.3M101.4 451.2V523.3M165.1 451.2V523.3M228.8 451.2V523.3M292.5 451.2V523.3M356.1 451.2V523.3M419.8 451.2V523.3M483.5 451.2V523.3M547.2 451.2V523.3M610.9 451.2V523.3M674.6 451.2V523.3M37.7 451.2H674.6M37.7 463.2H674.6M37.7 475.2H674.6M37.7 487.3H674.6M37.7 499.3H674.6M37.7 511.3H674.6M37.7 523.3H674.6" stroke="#000" stroke-opacity="0.2" stroke-width="1" fill="none" shape-rendering="crispEdges"/>
<path d="M37.7 514.0L101.4 513.5L165.1 512.9L228.8 512.2L292.5 512.0L356.1 511.5L419.8 510.8L483.5 509.5L547.2 509.0L610.9 507.0L674.6 505.8" stroke="#30e860" stroke-width="0.75" fill="none" stroke-dasharray="2.8 2.4"/>
<path d="M37.7 484.2L101.4 483.3L165.1 482.4L228.8 482.2L292.5 482.2L356.1 482.2L419.8 481.5L483.5 480.5L547.2 479.3L610.9 477.8L674.6 476.0" stroke="#109050" stroke-width="0.55" fill="none" stroke-dasharray="2.8 2.4"/>
<path d="M37.7 514.0L101.4 513.4L165.1 512.6L228.8 511.3L292.5 510.7L356.1 509.7L419.8 508.5L483.5 507.0L547.2 505.8L610.9 503.8L674.6 501.6" stroke="#2040e0" stroke-width="0.7" fill="none" stroke-dasharray="2.8 2.4"/>
<path d="M37.7 484.2L101.4 482.9L165.1 481.5L228.8 480.4L292.5 479.3L356.1 477.3L419.8 475.3L483.5 473.5L547.2 471.1L610.9 469.1L674.6 467.3" stroke="#2030d0" stroke-width="0.6" fill="none" stroke-dasharray="2.8 2.4"/>
<path d="M37.7 514.0L101.4 513.3L165.1 512.3L228.8 510.8L292.5 510.0L356.1 508.6L419.8 507.0L483.5 505.3L547.2 504.1L610.9 502.1L674.6 499.1" stroke="#202020" stroke-width="0.7" fill="none" stroke-dasharray="2.8 2.4"/>
<path d="M37.7 484.2L101.4 482.7L165.1 481.0L228.8 479.7L292.5 478.0L356.1 475.3L419.8 473.0L483.5 470.6L547.2 468.6L610.9 465.6L674.6 462.9" stroke="#202020" stroke-width="0.6" fill="none" stroke-dasharray="2.8 2.4"/>
<path d="M37.7 499.0L101.4 497.9L165.1 497.3L228.8 497.4L292.5 497.4L356.1 496.9L419.8 495.9L483.5 495.1L547.2 494.1L610.9 492.7L674.6 491.4" stroke="#00d22a" stroke-width="1.8" fill="none"/>
<path d="M37.7 499.0L101.4 497.7L165.1 496.7L228.8 496.2L292.5 495.2L356.1 494.0L419.8 492.2L483.5 490.2L547.2 488.4L610.9 486.4L674.6 484.2" stroke="#0000e6" stroke-width="1.8" fill="none"/>
<path d="M37.7 499.0L101.4 497.6L165.1 496.4L228.8 495.6L292.5 494.1L356.1 492.2L419.8 490.2L483.5 487.9L547.2 486.0L610.9 483.5L674.6 481.5" stroke="#000000" stroke-width="1.8" fill="none"/>
<path d="M674.6 462.9V505.8" stroke="#223" stroke-width="0.8" stroke-dasharray="2.8 2.4"/>
<path d="M37.9 451.2V523.3H674.6" stroke="#555" stroke-width="1" fill="none"/>
<path d="M101.4 523.3v-6.4M165.1 523.3v-6.4M228.8 523.3v-6.4M292.5 523.3v-6.4M356.1 523.3v-6.4M419.8 523.3v-6.4M483.5 523.3v-6.4M547.2 523.3v-6.4M610.9 523.3v-6.4M674.6 523.3v-6.4M37.7 451.2h7M37.7 463.2h7M37.7 475.2h7M37.7 487.3h7M37.7 499.3h7M37.7 511.3h7M37.7 523.3h7" stroke="#333" stroke-width="0.7" fill="none"/>
<text x="36.2" y="454.6" font-size="8.2" text-anchor="end" font-weight="normal" fill="#222" stroke="#222" stroke-width="0.14">8</text>
<text x="36.2" y="466.6" font-size="8.2" text-anchor="end" font-weight="normal" fill="#222" stroke="#222" stroke-width="0.14">7</text>
<text x="36.2" y="478.6" font-size="8.2" text-anchor="end" font-weight="normal" fill="#222" stroke="#222" stroke-width="0.14">6</text>
<text x="36.2" y="490.7" font-size="8.2" text-anchor="end" font-weight="normal" fill="#222" stroke="#222" stroke-width="0.14">5</text>
<text x="36.2" y="502.7" font-size="8.2" text-anchor="end" font-weight="normal" fill="#222" stroke="#222" stroke-width="0.14">4</text>
<text x="36.2" y="514.7" font-size="8.2" text-anchor="end" font-weight="normal" fill="#222" stroke="#222" stroke-width="0.14">3</text>
<text x="36.2" y="526.7" font-size="8.2" text-anchor="end" font-weight="normal" fill="#222" stroke="#222" stroke-width="0.14">2</text>
<text x="28.0" y="487.7" font-size="9.2" text-anchor="middle" font-weight="normal" fill="#333" transform="rotate(-90 28.0 487.7)">eTWL (m)</text>
<text x="69.6" y="468.4" font-size="12.4" text-anchor="start" font-weight="normal" fill="#111">B)</text>
<text x="297.7" y="460.7" font-size="9.1" text-anchor="middle" font-weight="bold" fill="#111">TWL evolution at Ports</text>
<path d="M37.7 535.6V609.4M101.4 535.6V609.4M165.1 535.6V609.4M228.8 535.6V609.4M292.5 535.6V609.4M356.1 535.6V609.4M419.8 535.6V609.4M483.5 535.6V609.4M547.2 535.6V609.4M610.9 535.6V609.4M674.6 535.6V609.4M37.7 609.4H674.6M37.7 597.1H674.6M37.7 584.8H674.6M37.7 572.5H674.6M37.7 560.2H674.6M37.7 547.9H674.6M37.7 535.6H674.6" stroke="#ebebeb" stroke-width="1" fill="none" shape-rendering="crispEdges"/>
<path d="M37.7 588.8L228.8 589.0L356.1 589.3L547.2 590.0L674.6 591.0" stroke="#00aa78" stroke-width="2" fill="none" stroke-dasharray="7 5"/>
<path d="M37.7 588.8L228.8 592.5L292.5 594.5L356.1 596.2L547.2 600.7L674.6 603.4" stroke="#0000e6" stroke-width="2" fill="none" stroke-dasharray="7 5"/>
<path d="M37.7 588.8L228.8 594.5L292.5 597.0L356.1 599.2L547.2 605.7L674.6 608.2" stroke="#000" stroke-width="2" fill="none" stroke-dasharray="7 5"/>
<path d="M37.7 558.1L165.1 559.6L228.8 560.2L292.5 561.0L356.1 562.7L547.2 566.7L674.6 571.4" stroke="#00aa78" stroke-width="2" fill="none"/>
<path d="M37.7 558.1L228.8 567.9L292.5 570.9L356.1 574.6L547.2 584.6L674.6 591.3" stroke="#0000e6" stroke-width="2" fill="none"/>
<path d="M37.7 558.1L228.8 574.6L292.5 580.1L356.1 585.8L547.2 600.7L674.6 609.3" stroke="#000" stroke-width="2" fill="none"/>
<path d="M37.9 535.6V609.4H674.6" stroke="#555" stroke-width="1" fill="none"/>
<path d="M101.4 609.4v-6.4M165.1 609.4v-6.4M228.8 609.4v-6.4M292.5 609.4v-6.4M356.1 609.4v-6.4M419.8 609.4v-6.4M483.5 609.4v-6.4M547.2 609.4v-6.4M610.9 609.4v-6.4M674.6 609.4v-6.4M37.7 609.4h7M37.7 597.1h7M37.7 584.8h7M37.7 572.5h7M37.7 560.2h7M37.7 547.9h7M37.7 535.6h7" stroke="#333" stroke-width="0.7" fill="none"/>
<text x="36.2" y="612.8" font-size="8.2" text-anchor="end" font-weight="normal" fill="#222" stroke="#222" stroke-width="0.14">0</text>
<text x="36.2" y="600.5" font-size="8.2" text-anchor="end" font-weight="normal" fill="#222" stroke="#222" stroke-width="0.14">0.1</text>
<text x="36.2" y="588.2" font-size="8.2" text-anchor="end" font-weight="normal" fill="#222" stroke="#222" stroke-width="0.14">0.2</text>
<text x="36.2" y="575.9" font-size="8.2" text-anchor="end" font-weight="normal" fill="#222" stroke="#222" stroke-width="0.14">0.3</text>
<text x="36.2" y="563.6" font-size="8.2" text-anchor="end" font-weight="normal" fill="#222" stroke="#222" stroke-width="0.14">0.4</text>
<text x="36.2" y="551.3" font-size="8.2" text-anchor="end" font-weight="normal" fill="#222" stroke="#222" stroke-width="0.14">0.5</text>
<text x="36.2" y="539.0" font-size="8.2" text-anchor="end" font-weight="normal" fill="#222" stroke="#222" stroke-width="0.14">0.6</text>
<text x="37.7" y="619.9" font-size="8.3" text-anchor="middle" font-weight="normal" fill="#333">2000</text>
<text x="101.4" y="619.9" font-size="8.3" text-anchor="middle" font-weight="normal" fill="#333">2010</text>
<text x="165.1" y="619.9" font-size="8.3" text-anchor="middle" font-weight="normal" fill="#333">2020</text>
<text x="228.8" y="619.9" font-size="8.3" text-anchor="middle" font-weight="normal" fill="#333">2030</text>
<text x="292.5" y="619.9" font-size="8.3" text-anchor="middle" font-weight="normal" fill="#333">2040</text>
<text x="356.1" y="619.9" font-size="8.3" text-anchor="middle" font-weight="normal" fill="#333">2050</text>
<text x="419.8" y="619.9" font-size="8.3" text-anchor="middle" font-weight="normal" fill="#333">2060</text>
<text x="483.5" y="619.9" font-size="8.3" text-anchor="middle" font-weight="normal" fill="#333">2070</text>
<text x="547.2" y="619.9" font-size="8.3" text-anchor="middle" font-weight="normal" fill="#333">2080</text>
<text x="610.9" y="619.9" font-size="8.3" text-anchor="middle" font-weight="normal" fill="#333">2090</text>
<text x="674.6" y="619.9" font-size="8.3" text-anchor="middle" font-weight="normal" fill="#333">2100</text>
<text x="21.3" y="572.0" font-size="9.3" text-anchor="middle" font-weight="normal" fill="#262626" transform="rotate(-90 21.3 572.0)">Decrease TWL (%)</text>
<text x="69.6" y="552.4" font-size="12.4" text-anchor="start" font-weight="normal" fill="#111">C)</text>
<text x="356.3" y="633.0" font-size="11.8" text-anchor="middle" font-weight="normal" fill="#262626">Years</text>
</svg></body></html>
